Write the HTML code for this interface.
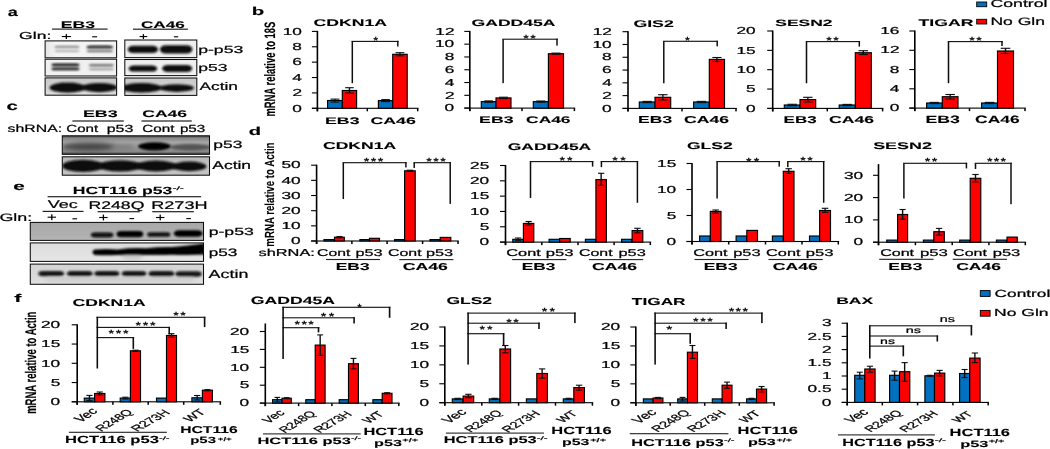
<!DOCTYPE html>
<html><head><meta charset="utf-8"><style>
html,body{margin:0;padding:0;background:#fff;}
svg{display:block;}
text{font-family:"Liberation Sans", sans-serif;text-rendering:geometricPrecision;}
</style></head><body>
<svg width="1050" height="449" viewBox="0 0 1050 449">
<defs>
<filter id="b1" x="-50%" y="-50%" width="200%" height="200%"><feGaussianBlur stdDeviation="1.2"/></filter>
<filter id="b2" x="-50%" y="-50%" width="200%" height="200%"><feGaussianBlur stdDeviation="2"/></filter>
<filter id="b3" x="-50%" y="-50%" width="200%" height="200%"><feGaussianBlur stdDeviation="0.8"/></filter>
<filter id="soft" filterUnits="userSpaceOnUse" x="0" y="0" width="1050" height="449"><feGaussianBlur stdDeviation="0.7 0.5"/></filter>

<linearGradient id="gA1" x1="0" y1="0" x2="1" y2="0"><stop offset="0" stop-color="#e4e4e4"/><stop offset="0.15" stop-color="#f4f4f4"/><stop offset="1" stop-color="#f2f2f2"/></linearGradient>
<linearGradient id="gA3" x1="0" y1="0" x2="0" y2="1"><stop offset="0" stop-color="#c8c8c8"/><stop offset="1" stop-color="#dcdcdc"/></linearGradient>
<linearGradient id="gC1" x1="0" y1="0" x2="0" y2="1"><stop offset="0" stop-color="#3a3a3a"/><stop offset="0.12" stop-color="#858585"/><stop offset="0.35" stop-color="#a6a6a6"/><stop offset="0.6" stop-color="#9a9a9a"/><stop offset="0.85" stop-color="#8a8a8a"/><stop offset="1" stop-color="#3a3a3a"/></linearGradient>
<linearGradient id="gC2" x1="0" y1="0" x2="0" y2="1"><stop offset="0" stop-color="#b8b8b8"/><stop offset="0.5" stop-color="#c8c8c8"/><stop offset="1" stop-color="#c0c0c0"/></linearGradient>
<linearGradient id="gE1" x1="0" y1="0" x2="0" y2="1"><stop offset="0" stop-color="#a8a8a8"/><stop offset="1" stop-color="#b4b4b4"/></linearGradient>
<linearGradient id="gE2" x1="0" y1="0" x2="0" y2="1"><stop offset="0" stop-color="#dcdcdc"/><stop offset="1" stop-color="#e6e6e6"/></linearGradient>
<linearGradient id="gE3" x1="0" y1="0" x2="0" y2="1"><stop offset="0" stop-color="#d4d4d4"/><stop offset="1" stop-color="#dedede"/></linearGradient>

</defs>
<rect width="1050" height="449" fill="#fff"/>
<g filter="url(#soft)">
<text x="7.79" y="16.35" font-size="11.98" font-weight="bold" textLength="10.08" lengthAdjust="spacingAndGlyphs" fill="#000" color="#000" stroke="currentColor" stroke-width="0.15" stroke-linejoin="round">a</text>
<text x="251.73" y="15.4" font-size="11.24" font-weight="bold" textLength="12.45" lengthAdjust="spacingAndGlyphs" fill="#000" color="#000" stroke="currentColor" stroke-width="0.15" stroke-linejoin="round">b</text>
<text x="6.44" y="110.25" font-size="11.98" font-weight="bold" textLength="11.28" lengthAdjust="spacingAndGlyphs" fill="#000" color="#000" stroke="currentColor" stroke-width="0.15" stroke-linejoin="round">c</text>
<text x="248.84" y="135.4" font-size="11.24" font-weight="bold" textLength="12.33" lengthAdjust="spacingAndGlyphs" fill="#000" color="#000" stroke="currentColor" stroke-width="0.15" stroke-linejoin="round">d</text>
<text x="13.29" y="190.25" font-size="11.6" font-weight="bold" textLength="11.55" lengthAdjust="spacingAndGlyphs" fill="#000" color="#000" stroke="currentColor" stroke-width="0.15" stroke-linejoin="round">e</text>
<text x="14.24" y="301.7" font-size="11.24" font-weight="bold" textLength="7.15" lengthAdjust="spacingAndGlyphs" fill="#000" color="#000" stroke="currentColor" stroke-width="0.15" stroke-linejoin="round">f</text>
<rect x="316.6" y="30.9" width="1.6" height="80.4" fill="#000"/>
<rect x="311.9" y="107.75" width="106.6" height="1.1" fill="#000"/>
<rect x="311.9" y="107.75" width="5.5" height="1.1" fill="#000"/>
<text transform="translate(301.85,111.52) scale(1.71,1)" font-size="10.1" font-weight="normal" text-anchor="end" fill="#000" color="#000" stroke="currentColor" stroke-width="0.22" stroke-linejoin="round">0</text>
<rect x="311.9" y="92.37" width="5.5" height="1.1" fill="#000"/>
<text transform="translate(302.07,96.14) scale(1.71,1)" font-size="10.1" font-weight="normal" text-anchor="end" fill="#000" color="#000" stroke="currentColor" stroke-width="0.22" stroke-linejoin="round">2</text>
<rect x="311.9" y="76.99" width="5.5" height="1.1" fill="#000"/>
<text transform="translate(301.98,80.76) scale(1.71,1)" font-size="10.1" font-weight="normal" text-anchor="end" fill="#000" color="#000" stroke="currentColor" stroke-width="0.22" stroke-linejoin="round">4</text>
<rect x="311.9" y="61.61" width="5.5" height="1.1" fill="#000"/>
<text transform="translate(301.91,65.38) scale(1.71,1)" font-size="10.1" font-weight="normal" text-anchor="end" fill="#000" color="#000" stroke="currentColor" stroke-width="0.22" stroke-linejoin="round">6</text>
<rect x="311.9" y="46.23" width="5.5" height="1.1" fill="#000"/>
<text transform="translate(301.94,50) scale(1.71,1)" font-size="10.1" font-weight="normal" text-anchor="end" fill="#000" color="#000" stroke="currentColor" stroke-width="0.22" stroke-linejoin="round">8</text>
<rect x="311.9" y="30.85" width="5.5" height="1.1" fill="#000"/>
<text transform="translate(301.85,34.62) scale(1.71,1)" font-size="10.1" font-weight="normal" text-anchor="end" fill="#000" color="#000" stroke="currentColor" stroke-width="0.22" stroke-linejoin="round">10</text>
<rect x="316.65" y="108.3" width="1.5" height="3" fill="#000"/>
<rect x="366.55" y="108.3" width="1.5" height="3" fill="#000"/>
<rect x="416.95" y="108.3" width="1.5" height="3" fill="#000"/>
<rect x="327.6" y="100.5" width="14.7" height="7.8" fill="#0070c0" stroke="#000" stroke-width="1.15"/>
<rect x="334.25" y="99.1" width="1.4" height="3" fill="#111"/>
<rect x="330.54" y="98.55" width="8.82" height="1.1" fill="#111"/>
<rect x="330.54" y="101.55" width="8.82" height="1.1" fill="#111"/>
<rect x="342.3" y="90.5" width="14.3" height="17.8" fill="#ff0000" stroke="#000" stroke-width="1.15"/>
<rect x="348.75" y="87.7" width="1.4" height="5.3" fill="#111"/>
<rect x="345.16" y="87.15" width="8.58" height="1.1" fill="#111"/>
<rect x="345.16" y="92.45" width="8.58" height="1.1" fill="#111"/>
<rect x="378.4" y="100.6" width="14.3" height="7.7" fill="#0070c0" stroke="#000" stroke-width="1.15"/>
<rect x="384.85" y="99.6" width="1.4" height="2" fill="#111"/>
<rect x="381.26" y="99.05" width="8.58" height="1.1" fill="#111"/>
<rect x="381.26" y="101.05" width="8.58" height="1.1" fill="#111"/>
<rect x="392.7" y="54.3" width="14.5" height="54" fill="#ff0000" stroke="#000" stroke-width="1.15"/>
<rect x="399.25" y="52.7" width="1.4" height="3.2" fill="#111"/>
<rect x="395.6" y="52.15" width="8.7" height="1.1" fill="#111"/>
<rect x="395.6" y="55.35" width="8.7" height="1.1" fill="#111"/>
<rect x="351.55" y="41.4" width="1.5" height="41.75" fill="#111"/>
<rect x="351.55" y="40.85" width="47" height="1.1" fill="#111"/>
<rect x="397.05" y="40.85" width="1.5" height="5.65" fill="#111"/>
<text x="373.25" y="44.38" font-size="10.5" font-weight="bold" textLength="4.87" lengthAdjust="spacingAndGlyphs" fill="#111">*</text>
<text x="313.61" y="26.05" font-size="9.78" font-weight="bold" textLength="73.52" lengthAdjust="spacingAndGlyphs" fill="#000" color="#000" stroke="currentColor" stroke-width="0.1" stroke-linejoin="round">CDKN1A</text>
<text x="325.02" y="123.55" font-size="9.5" font-weight="bold" textLength="34.48" lengthAdjust="spacingAndGlyphs" fill="#000" color="#000" stroke="currentColor" stroke-width="0.1" stroke-linejoin="round">EB3</text>
<text x="370.44" y="123.55" font-size="9.5" font-weight="bold" textLength="45.39" lengthAdjust="spacingAndGlyphs" fill="#000" color="#000" stroke="currentColor" stroke-width="0.1" stroke-linejoin="round">CA46</text>
<text transform="translate(275.27,116.55) scale(1.54,1) rotate(-90)" font-size="9.8" font-weight="bold" textLength="94.87" lengthAdjust="spacingAndGlyphs" color="#000" stroke="currentColor" stroke-width="0.1" stroke-linejoin="round">mRNA relative to 18S</text>
<rect x="469" y="30.9" width="1.6" height="80.2" fill="#000"/>
<rect x="464.3" y="107.55" width="110.9" height="1.1" fill="#000"/>
<rect x="464.3" y="107.55" width="5.5" height="1.1" fill="#000"/>
<text transform="translate(454.19,111.32) scale(1.71,1)" font-size="10.1" font-weight="normal" text-anchor="end" fill="#000" color="#000" stroke="currentColor" stroke-width="0.22" stroke-linejoin="round">0</text>
<rect x="464.3" y="94.77" width="5.5" height="1.1" fill="#000"/>
<text transform="translate(454.51,98.53) scale(1.71,1)" font-size="10.1" font-weight="normal" text-anchor="end" fill="#000" color="#000" stroke="currentColor" stroke-width="0.22" stroke-linejoin="round">2</text>
<rect x="464.3" y="81.98" width="5.5" height="1.1" fill="#000"/>
<text transform="translate(454.35,85.75) scale(1.71,1)" font-size="10.1" font-weight="normal" text-anchor="end" fill="#000" color="#000" stroke="currentColor" stroke-width="0.22" stroke-linejoin="round">4</text>
<rect x="464.3" y="69.2" width="5.5" height="1.1" fill="#000"/>
<text transform="translate(454.29,72.97) scale(1.71,1)" font-size="10.1" font-weight="normal" text-anchor="end" fill="#000" color="#000" stroke="currentColor" stroke-width="0.22" stroke-linejoin="round">6</text>
<rect x="464.3" y="56.42" width="5.5" height="1.1" fill="#000"/>
<text transform="translate(454.4,60.18) scale(1.71,1)" font-size="10.1" font-weight="normal" text-anchor="end" fill="#000" color="#000" stroke="currentColor" stroke-width="0.22" stroke-linejoin="round">8</text>
<rect x="464.3" y="43.63" width="5.5" height="1.1" fill="#000"/>
<text transform="translate(454.19,47.4) scale(1.71,1)" font-size="10.1" font-weight="normal" text-anchor="end" fill="#000" color="#000" stroke="currentColor" stroke-width="0.22" stroke-linejoin="round">10</text>
<rect x="464.3" y="30.85" width="5.5" height="1.1" fill="#000"/>
<text transform="translate(454.51,34.62) scale(1.71,1)" font-size="10.1" font-weight="normal" text-anchor="end" fill="#000" color="#000" stroke="currentColor" stroke-width="0.22" stroke-linejoin="round">12</text>
<rect x="469.05" y="108.1" width="1.5" height="3" fill="#000"/>
<rect x="521.25" y="108.1" width="1.5" height="3" fill="#000"/>
<rect x="573.65" y="108.1" width="1.5" height="3" fill="#000"/>
<rect x="481.3" y="101.6" width="14.7" height="6.5" fill="#0070c0" stroke="#000" stroke-width="1.15"/>
<rect x="487.95" y="100.9" width="1.4" height="1.4" fill="#111"/>
<rect x="484.24" y="100.35" width="8.82" height="1.1" fill="#111"/>
<rect x="484.24" y="101.75" width="8.82" height="1.1" fill="#111"/>
<rect x="496" y="97.9" width="15" height="10.2" fill="#ff0000" stroke="#000" stroke-width="1.15"/>
<rect x="502.8" y="97.2" width="1.4" height="1.4" fill="#111"/>
<rect x="499" y="96.65" width="9" height="1.1" fill="#111"/>
<rect x="499" y="98.05" width="9" height="1.1" fill="#111"/>
<rect x="533.3" y="101.6" width="15.1" height="6.5" fill="#0070c0" stroke="#000" stroke-width="1.15"/>
<rect x="540.15" y="101" width="1.4" height="1.2" fill="#111"/>
<rect x="536.32" y="100.45" width="9.06" height="1.1" fill="#111"/>
<rect x="536.32" y="101.65" width="9.06" height="1.1" fill="#111"/>
<rect x="548.4" y="53.7" width="15.1" height="54.4" fill="#ff0000" stroke="#000" stroke-width="1.15"/>
<rect x="555.25" y="53.1" width="1.4" height="1.2" fill="#111"/>
<rect x="551.42" y="52.55" width="9.06" height="1.1" fill="#111"/>
<rect x="551.42" y="53.75" width="9.06" height="1.1" fill="#111"/>
<rect x="502.35" y="39.2" width="1.5" height="43.95" fill="#111"/>
<rect x="502.35" y="38.65" width="55.4" height="1.1" fill="#111"/>
<rect x="556.25" y="38.65" width="1.5" height="6.95" fill="#111"/>
<text transform="translate(523.36,42.15) scale(1.35,1)" font-size="10.5" font-weight="bold" textLength="9.18" lengthAdjust="spacing" fill="#111">**</text>
<text x="471.58" y="26.05" font-size="9.22" font-weight="bold" textLength="83.97" lengthAdjust="spacingAndGlyphs" fill="#000" color="#000" stroke="currentColor" stroke-width="0.1" stroke-linejoin="round">GADD45A</text>
<text x="479.11" y="122.75" font-size="9.64" font-weight="bold" textLength="34.45" lengthAdjust="spacingAndGlyphs" fill="#000" color="#000" stroke="currentColor" stroke-width="0.1" stroke-linejoin="round">EB3</text>
<text x="526.09" y="122.75" font-size="9.64" font-weight="bold" textLength="44.47" lengthAdjust="spacingAndGlyphs" fill="#000" color="#000" stroke="currentColor" stroke-width="0.1" stroke-linejoin="round">CA46</text>
<rect x="627.2" y="31.2" width="1.6" height="80.2" fill="#000"/>
<rect x="622.5" y="107.85" width="114.3" height="1.1" fill="#000"/>
<rect x="622.5" y="107.85" width="5.5" height="1.1" fill="#000"/>
<text transform="translate(611.65,111.62) scale(1.71,1)" font-size="10.1" font-weight="normal" text-anchor="end" fill="#000" color="#000" stroke="currentColor" stroke-width="0.22" stroke-linejoin="round">0</text>
<rect x="622.5" y="95.07" width="5.5" height="1.1" fill="#000"/>
<text transform="translate(611.87,98.83) scale(1.71,1)" font-size="10.1" font-weight="normal" text-anchor="end" fill="#000" color="#000" stroke="currentColor" stroke-width="0.22" stroke-linejoin="round">2</text>
<rect x="622.5" y="82.28" width="5.5" height="1.1" fill="#000"/>
<text transform="translate(611.78,86.05) scale(1.71,1)" font-size="10.1" font-weight="normal" text-anchor="end" fill="#000" color="#000" stroke="currentColor" stroke-width="0.22" stroke-linejoin="round">4</text>
<rect x="622.5" y="69.5" width="5.5" height="1.1" fill="#000"/>
<text transform="translate(611.71,73.27) scale(1.71,1)" font-size="10.1" font-weight="normal" text-anchor="end" fill="#000" color="#000" stroke="currentColor" stroke-width="0.22" stroke-linejoin="round">6</text>
<rect x="622.5" y="56.72" width="5.5" height="1.1" fill="#000"/>
<text transform="translate(611.74,60.48) scale(1.71,1)" font-size="10.1" font-weight="normal" text-anchor="end" fill="#000" color="#000" stroke="currentColor" stroke-width="0.22" stroke-linejoin="round">8</text>
<rect x="622.5" y="43.93" width="5.5" height="1.1" fill="#000"/>
<text transform="translate(611.65,47.7) scale(1.71,1)" font-size="10.1" font-weight="normal" text-anchor="end" fill="#000" color="#000" stroke="currentColor" stroke-width="0.22" stroke-linejoin="round">10</text>
<rect x="622.5" y="31.15" width="5.5" height="1.1" fill="#000"/>
<text transform="translate(611.87,34.92) scale(1.71,1)" font-size="10.1" font-weight="normal" text-anchor="end" fill="#000" color="#000" stroke="currentColor" stroke-width="0.22" stroke-linejoin="round">12</text>
<rect x="627.25" y="108.4" width="1.5" height="3" fill="#000"/>
<rect x="681.25" y="108.4" width="1.5" height="3" fill="#000"/>
<rect x="735.25" y="108.4" width="1.5" height="3" fill="#000"/>
<rect x="639.3" y="102" width="15.7" height="6.4" fill="#0070c0" stroke="#000" stroke-width="1.15"/>
<rect x="646.45" y="101.4" width="1.4" height="1.2" fill="#111"/>
<rect x="642.44" y="100.85" width="9.42" height="1.1" fill="#111"/>
<rect x="642.44" y="102.05" width="9.42" height="1.1" fill="#111"/>
<rect x="655" y="97.3" width="15.7" height="11.1" fill="#ff0000" stroke="#000" stroke-width="1.15"/>
<rect x="662.15" y="94.7" width="1.4" height="5.3" fill="#111"/>
<rect x="658.14" y="94.15" width="9.42" height="1.1" fill="#111"/>
<rect x="658.14" y="99.45" width="9.42" height="1.1" fill="#111"/>
<rect x="693.6" y="102" width="15.7" height="6.4" fill="#0070c0" stroke="#000" stroke-width="1.15"/>
<rect x="700.75" y="101.4" width="1.4" height="1.2" fill="#111"/>
<rect x="696.74" y="100.85" width="9.42" height="1.1" fill="#111"/>
<rect x="696.74" y="102.05" width="9.42" height="1.1" fill="#111"/>
<rect x="709.3" y="59.4" width="15.2" height="49" fill="#ff0000" stroke="#000" stroke-width="1.15"/>
<rect x="716.2" y="57.5" width="1.4" height="4" fill="#111"/>
<rect x="712.34" y="56.95" width="9.12" height="1.1" fill="#111"/>
<rect x="712.34" y="60.95" width="9.12" height="1.1" fill="#111"/>
<rect x="663.05" y="41.3" width="1.5" height="41.95" fill="#111"/>
<rect x="663.05" y="40.75" width="54.9" height="1.1" fill="#111"/>
<rect x="716.45" y="40.75" width="1.5" height="5.55" fill="#111"/>
<text x="684.99" y="44.49" font-size="10.5" font-weight="bold" textLength="4.82" lengthAdjust="spacingAndGlyphs" fill="#111">*</text>
<text x="633.4" y="26.55" font-size="9.78" font-weight="bold" textLength="40.37" lengthAdjust="spacingAndGlyphs" fill="#000" color="#000" stroke="currentColor" stroke-width="0.1" stroke-linejoin="round">GIS2</text>
<text x="638.13" y="123.45" font-size="10.06" font-weight="bold" textLength="34.05" lengthAdjust="spacingAndGlyphs" fill="#000" color="#000" stroke="currentColor" stroke-width="0.1" stroke-linejoin="round">EB3</text>
<text x="684.08" y="123.45" font-size="10.06" font-weight="bold" textLength="44.84" lengthAdjust="spacingAndGlyphs" fill="#000" color="#000" stroke="currentColor" stroke-width="0.1" stroke-linejoin="round">CA46</text>
<rect x="771.9" y="30.5" width="1.6" height="80.9" fill="#000"/>
<rect x="767.2" y="107.85" width="116.2" height="1.1" fill="#000"/>
<rect x="767.2" y="107.85" width="5.5" height="1.1" fill="#000"/>
<text transform="translate(755.65,111.62) scale(1.71,1)" font-size="10.1" font-weight="normal" text-anchor="end" fill="#000" color="#000" stroke="currentColor" stroke-width="0.22" stroke-linejoin="round">0</text>
<rect x="767.2" y="88.5" width="5.5" height="1.1" fill="#000"/>
<text transform="translate(755.7,92.27) scale(1.71,1)" font-size="10.1" font-weight="normal" text-anchor="end" fill="#000" color="#000" stroke="currentColor" stroke-width="0.22" stroke-linejoin="round">5</text>
<rect x="767.2" y="69.15" width="5.5" height="1.1" fill="#000"/>
<text transform="translate(755.65,72.92) scale(1.71,1)" font-size="10.1" font-weight="normal" text-anchor="end" fill="#000" color="#000" stroke="currentColor" stroke-width="0.22" stroke-linejoin="round">10</text>
<rect x="767.2" y="49.8" width="5.5" height="1.1" fill="#000"/>
<text transform="translate(755.7,53.57) scale(1.71,1)" font-size="10.1" font-weight="normal" text-anchor="end" fill="#000" color="#000" stroke="currentColor" stroke-width="0.22" stroke-linejoin="round">15</text>
<rect x="767.2" y="30.45" width="5.5" height="1.1" fill="#000"/>
<text transform="translate(755.65,34.22) scale(1.71,1)" font-size="10.1" font-weight="normal" text-anchor="end" fill="#000" color="#000" stroke="currentColor" stroke-width="0.22" stroke-linejoin="round">20</text>
<rect x="771.95" y="108.4" width="1.5" height="3" fill="#000"/>
<rect x="826.55" y="108.4" width="1.5" height="3" fill="#000"/>
<rect x="881.85" y="108.4" width="1.5" height="3" fill="#000"/>
<rect x="784.3" y="105" width="15.7" height="3.4" fill="#0070c0" stroke="#000" stroke-width="1.15"/>
<rect x="791.45" y="104.3" width="1.4" height="1.4" fill="#111"/>
<rect x="787.44" y="103.75" width="9.42" height="1.1" fill="#111"/>
<rect x="787.44" y="105.15" width="9.42" height="1.1" fill="#111"/>
<rect x="800" y="99.6" width="15.7" height="8.8" fill="#ff0000" stroke="#000" stroke-width="1.15"/>
<rect x="807.15" y="97.3" width="1.4" height="4.7" fill="#111"/>
<rect x="803.14" y="96.75" width="9.42" height="1.1" fill="#111"/>
<rect x="803.14" y="101.45" width="9.42" height="1.1" fill="#111"/>
<rect x="839.2" y="105" width="16.1" height="3.4" fill="#0070c0" stroke="#000" stroke-width="1.15"/>
<rect x="846.55" y="104.4" width="1.4" height="1.2" fill="#111"/>
<rect x="842.42" y="103.85" width="9.66" height="1.1" fill="#111"/>
<rect x="842.42" y="105.05" width="9.66" height="1.1" fill="#111"/>
<rect x="855.3" y="52.7" width="16" height="55.7" fill="#ff0000" stroke="#000" stroke-width="1.15"/>
<rect x="862.6" y="50.7" width="1.4" height="3.8" fill="#111"/>
<rect x="858.5" y="50.15" width="9.6" height="1.1" fill="#111"/>
<rect x="858.5" y="53.95" width="9.6" height="1.1" fill="#111"/>
<rect x="805.75" y="41.6" width="1.5" height="41.65" fill="#111"/>
<rect x="805.75" y="41.05" width="54.3" height="1.1" fill="#111"/>
<rect x="858.55" y="41.05" width="1.5" height="5.55" fill="#111"/>
<text transform="translate(826.3,43.68) scale(1.35,1)" font-size="10.5" font-weight="bold" textLength="9.28" lengthAdjust="spacing" fill="#111">**</text>
<text x="775.26" y="25.75" font-size="9.08" font-weight="bold" textLength="57.35" lengthAdjust="spacingAndGlyphs" fill="#000" color="#000" stroke="currentColor" stroke-width="0.1" stroke-linejoin="round">SESN2</text>
<text x="783.57" y="123.15" font-size="9.92" font-weight="bold" textLength="33.05" lengthAdjust="spacingAndGlyphs" fill="#000" color="#000" stroke="currentColor" stroke-width="0.1" stroke-linejoin="round">EB3</text>
<text x="828.99" y="123.15" font-size="9.92" font-weight="bold" textLength="44.97" lengthAdjust="spacingAndGlyphs" fill="#000" color="#000" stroke="currentColor" stroke-width="0.1" stroke-linejoin="round">CA46</text>
<rect x="914" y="30.5" width="1.6" height="80.6" fill="#000"/>
<rect x="909.3" y="107.55" width="116.5" height="1.1" fill="#000"/>
<rect x="909.3" y="107.55" width="5.5" height="1.1" fill="#000"/>
<text transform="translate(899.32,111.32) scale(1.71,1)" font-size="10.1" font-weight="normal" text-anchor="end" fill="#000" color="#000" stroke="currentColor" stroke-width="0.22" stroke-linejoin="round">0</text>
<rect x="909.3" y="88.27" width="5.5" height="1.1" fill="#000"/>
<text transform="translate(899.43,92.04) scale(1.71,1)" font-size="10.1" font-weight="normal" text-anchor="end" fill="#000" color="#000" stroke="currentColor" stroke-width="0.22" stroke-linejoin="round">4</text>
<rect x="909.3" y="69" width="5.5" height="1.1" fill="#000"/>
<text transform="translate(899.43,72.77) scale(1.71,1)" font-size="10.1" font-weight="normal" text-anchor="end" fill="#000" color="#000" stroke="currentColor" stroke-width="0.22" stroke-linejoin="round">8</text>
<rect x="909.3" y="49.73" width="5.5" height="1.1" fill="#000"/>
<text transform="translate(899.52,53.49) scale(1.71,1)" font-size="10.1" font-weight="normal" text-anchor="end" fill="#000" color="#000" stroke="currentColor" stroke-width="0.22" stroke-linejoin="round">12</text>
<rect x="909.3" y="30.45" width="5.5" height="1.1" fill="#000"/>
<text transform="translate(899.4,34.22) scale(1.71,1)" font-size="10.1" font-weight="normal" text-anchor="end" fill="#000" color="#000" stroke="currentColor" stroke-width="0.22" stroke-linejoin="round">16</text>
<rect x="914.05" y="108.1" width="1.5" height="3" fill="#000"/>
<rect x="968.75" y="108.1" width="1.5" height="3" fill="#000"/>
<rect x="1024.25" y="108.1" width="1.5" height="3" fill="#000"/>
<rect x="926.6" y="103" width="15.7" height="5.1" fill="#0070c0" stroke="#000" stroke-width="1.15"/>
<rect x="933.75" y="102.4" width="1.4" height="1.2" fill="#111"/>
<rect x="929.74" y="101.85" width="9.42" height="1.1" fill="#111"/>
<rect x="929.74" y="103.05" width="9.42" height="1.1" fill="#111"/>
<rect x="942.3" y="96.7" width="15.7" height="11.4" fill="#ff0000" stroke="#000" stroke-width="1.15"/>
<rect x="949.45" y="94.5" width="1.4" height="4.5" fill="#111"/>
<rect x="945.44" y="93.95" width="9.42" height="1.1" fill="#111"/>
<rect x="945.44" y="98.45" width="9.42" height="1.1" fill="#111"/>
<rect x="981.6" y="103" width="15.9" height="5.1" fill="#0070c0" stroke="#000" stroke-width="1.15"/>
<rect x="988.85" y="102.4" width="1.4" height="1.2" fill="#111"/>
<rect x="984.78" y="101.85" width="9.54" height="1.1" fill="#111"/>
<rect x="984.78" y="103.05" width="9.54" height="1.1" fill="#111"/>
<rect x="997.5" y="51" width="16" height="57.1" fill="#ff0000" stroke="#000" stroke-width="1.15"/>
<rect x="1004.8" y="48.3" width="1.4" height="5.2" fill="#111"/>
<rect x="1000.7" y="47.75" width="9.6" height="1.1" fill="#111"/>
<rect x="1000.7" y="52.95" width="9.6" height="1.1" fill="#111"/>
<rect x="947.75" y="41.6" width="1.5" height="41.55" fill="#111"/>
<rect x="947.75" y="41.05" width="55" height="1.1" fill="#111"/>
<rect x="1001.25" y="41.05" width="1.5" height="4.95" fill="#111"/>
<text transform="translate(969.21,44.24) scale(1.35,1)" font-size="10.5" font-weight="bold" textLength="9.28" lengthAdjust="spacing" fill="#111">**</text>
<text x="918.46" y="25.85" font-size="9.78" font-weight="bold" textLength="55" lengthAdjust="spacingAndGlyphs" fill="#000" color="#000" stroke="currentColor" stroke-width="0.1" stroke-linejoin="round">TIGAR</text>
<text x="925.55" y="123.15" font-size="10.61" font-weight="bold" textLength="34.34" lengthAdjust="spacingAndGlyphs" fill="#000" color="#000" stroke="currentColor" stroke-width="0.1" stroke-linejoin="round">EB3</text>
<text x="975.13" y="123.15" font-size="10.61" font-weight="bold" textLength="44.53" lengthAdjust="spacingAndGlyphs" fill="#000" color="#000" stroke="currentColor" stroke-width="0.1" stroke-linejoin="round">CA46</text>
<rect x="976.7" y="2" width="10" height="4.7" fill="#0070c0" stroke="#000" stroke-width="0.9"/>
<rect x="976.7" y="19.3" width="10" height="4.7" fill="#ff0000" stroke="#000" stroke-width="0.9"/>
<text x="990.55" y="6.75" font-size="10.47" font-weight="normal" textLength="56.94" lengthAdjust="spacingAndGlyphs" fill="#000" color="#000" stroke="currentColor" stroke-width="0.22" stroke-linejoin="round">Control</text>
<text x="990.42" y="24.55" font-size="10.75" font-weight="normal" textLength="54.52" lengthAdjust="spacingAndGlyphs" fill="#000" color="#000" stroke="currentColor" stroke-width="0.22" stroke-linejoin="round">No Gln</text>
<rect x="315.8" y="164.7" width="1.6" height="79.3" fill="#000"/>
<rect x="311.1" y="240.45" width="147.7" height="1.1" fill="#000"/>
<rect x="311.1" y="240.45" width="5.5" height="1.1" fill="#000"/>
<text transform="translate(300.65,244.22) scale(1.71,1)" font-size="10.1" font-weight="normal" text-anchor="end" fill="#000" color="#000" stroke="currentColor" stroke-width="0.22" stroke-linejoin="round">0</text>
<rect x="311.1" y="225.29" width="5.5" height="1.1" fill="#000"/>
<text transform="translate(300.65,229.06) scale(1.71,1)" font-size="10.1" font-weight="normal" text-anchor="end" fill="#000" color="#000" stroke="currentColor" stroke-width="0.22" stroke-linejoin="round">10</text>
<rect x="311.1" y="210.13" width="5.5" height="1.1" fill="#000"/>
<text transform="translate(300.65,213.9) scale(1.71,1)" font-size="10.1" font-weight="normal" text-anchor="end" fill="#000" color="#000" stroke="currentColor" stroke-width="0.22" stroke-linejoin="round">20</text>
<rect x="311.1" y="194.97" width="5.5" height="1.1" fill="#000"/>
<text transform="translate(300.65,198.74) scale(1.71,1)" font-size="10.1" font-weight="normal" text-anchor="end" fill="#000" color="#000" stroke="currentColor" stroke-width="0.22" stroke-linejoin="round">30</text>
<rect x="311.1" y="179.81" width="5.5" height="1.1" fill="#000"/>
<text transform="translate(300.65,183.58) scale(1.71,1)" font-size="10.1" font-weight="normal" text-anchor="end" fill="#000" color="#000" stroke="currentColor" stroke-width="0.22" stroke-linejoin="round">40</text>
<rect x="311.1" y="164.65" width="5.5" height="1.1" fill="#000"/>
<text transform="translate(300.65,168.42) scale(1.71,1)" font-size="10.1" font-weight="normal" text-anchor="end" fill="#000" color="#000" stroke="currentColor" stroke-width="0.22" stroke-linejoin="round">50</text>
<rect x="315.85" y="241" width="1.5" height="3" fill="#000"/>
<rect x="351.15" y="241" width="1.5" height="3" fill="#000"/>
<rect x="386.35" y="241" width="1.5" height="3" fill="#000"/>
<rect x="421.85" y="241" width="1.5" height="3" fill="#000"/>
<rect x="457.25" y="241" width="1.5" height="3" fill="#000"/>
<rect x="324" y="239.6" width="10.5" height="1.4" fill="#0070c0" stroke="#000" stroke-width="1.15"/>
<rect x="334.5" y="237.2" width="9.8" height="3.8" fill="#ff0000" stroke="#000" stroke-width="1.15"/>
<rect x="338.7" y="236.5" width="1.4" height="1.4" fill="#111"/>
<rect x="336.46" y="235.95" width="5.88" height="1.1" fill="#111"/>
<rect x="336.46" y="237.35" width="5.88" height="1.1" fill="#111"/>
<rect x="359.9" y="239.6" width="9.6" height="1.4" fill="#0070c0" stroke="#000" stroke-width="1.15"/>
<rect x="369.5" y="238.3" width="10" height="2.7" fill="#ff0000" stroke="#000" stroke-width="1.15"/>
<rect x="394.6" y="239.6" width="10" height="1.4" fill="#0070c0" stroke="#000" stroke-width="1.15"/>
<rect x="404.6" y="170.8" width="10.6" height="70.2" fill="#ff0000" stroke="#000" stroke-width="1.15"/>
<rect x="409.2" y="170.2" width="1.4" height="1.2" fill="#111"/>
<rect x="406.72" y="169.65" width="6.36" height="1.1" fill="#111"/>
<rect x="406.72" y="170.85" width="6.36" height="1.1" fill="#111"/>
<rect x="430" y="239.6" width="10.2" height="1.4" fill="#0070c0" stroke="#000" stroke-width="1.15"/>
<rect x="440.2" y="237.4" width="10.6" height="3.6" fill="#ff0000" stroke="#000" stroke-width="1.15"/>
<rect x="342.55" y="162.7" width="1.5" height="36.35" fill="#111"/>
<rect x="342.55" y="162.15" width="64.1" height="1.1" fill="#111"/>
<rect x="405.15" y="162.15" width="1.5" height="5.25" fill="#111"/>
<rect x="413.45" y="162.7" width="1.5" height="5.25" fill="#111"/>
<rect x="413.45" y="162.15" width="37.5" height="1.1" fill="#111"/>
<rect x="449.45" y="162.15" width="1.5" height="41.75" fill="#111"/>
<text transform="translate(363.67,165.41) scale(1.35,1)" font-size="10.5" font-weight="bold" textLength="14.49" lengthAdjust="spacing" fill="#111">***</text>
<text transform="translate(426.26,164.81) scale(1.35,1)" font-size="10.5" font-weight="bold" textLength="14.38" lengthAdjust="spacing" fill="#111">***</text>
<text x="322.98" y="148.85" font-size="9.92" font-weight="bold" textLength="73.29" lengthAdjust="spacingAndGlyphs" fill="#000" color="#000" stroke="currentColor" stroke-width="0.1" stroke-linejoin="round">CDKN1A</text>
<text x="317.11" y="255.85" font-size="9.78" font-weight="normal" textLength="33.16" lengthAdjust="spacingAndGlyphs" fill="#000" color="#000" stroke="currentColor" stroke-width="0.22" stroke-linejoin="round">Cont</text>
<text x="355.55" y="255.85" font-size="9.78" font-weight="normal" textLength="27.06" lengthAdjust="spacingAndGlyphs" fill="#000" color="#000" stroke="currentColor" stroke-width="0.22" stroke-linejoin="round">p53</text>
<text x="388.08" y="255.85" font-size="9.78" font-weight="normal" textLength="33.54" lengthAdjust="spacingAndGlyphs" fill="#000" color="#000" stroke="currentColor" stroke-width="0.22" stroke-linejoin="round">Cont</text>
<text x="426.02" y="255.85" font-size="9.78" font-weight="normal" textLength="27.09" lengthAdjust="spacingAndGlyphs" fill="#000" color="#000" stroke="currentColor" stroke-width="0.22" stroke-linejoin="round">p53</text>
<rect x="326" y="258.95" width="53.9" height="1.1" fill="#222"/>
<rect x="399.3" y="259.05" width="54.1" height="1.1" fill="#222"/>
<text x="335.77" y="270.45" font-size="10.06" font-weight="bold" textLength="33.82" lengthAdjust="spacingAndGlyphs" fill="#000" color="#000" stroke="currentColor" stroke-width="0.1" stroke-linejoin="round">EB3</text>
<text x="402.88" y="270.45" font-size="10.06" font-weight="bold" textLength="45.02" lengthAdjust="spacingAndGlyphs" fill="#000" color="#000" stroke="currentColor" stroke-width="0.1" stroke-linejoin="round">CA46</text>
<text x="258.53" y="255.75" font-size="10.06" font-weight="normal" textLength="56.37" lengthAdjust="spacingAndGlyphs" fill="#000" color="#000" stroke="currentColor" stroke-width="0.22" stroke-linejoin="round">shRNA:</text>
<text transform="translate(273.54,246.69) scale(1.29,1) rotate(-90)" font-size="10.2" font-weight="bold" textLength="104.18" lengthAdjust="spacingAndGlyphs" color="#000" stroke="currentColor" stroke-width="0.1" stroke-linejoin="round">mRNA relative to Actin</text>
<rect x="504.7" y="165" width="1.6" height="80.1" fill="#000"/>
<rect x="500" y="241.55" width="151.1" height="1.1" fill="#000"/>
<rect x="500" y="241.55" width="5.5" height="1.1" fill="#000"/>
<text transform="translate(489.19,245.32) scale(1.71,1)" font-size="10.1" font-weight="normal" text-anchor="end" fill="#000" color="#000" stroke="currentColor" stroke-width="0.22" stroke-linejoin="round">0</text>
<rect x="500" y="226.23" width="5.5" height="1.1" fill="#000"/>
<text transform="translate(489.28,230) scale(1.71,1)" font-size="10.1" font-weight="normal" text-anchor="end" fill="#000" color="#000" stroke="currentColor" stroke-width="0.22" stroke-linejoin="round">5</text>
<rect x="500" y="210.91" width="5.5" height="1.1" fill="#000"/>
<text transform="translate(489.19,214.68) scale(1.71,1)" font-size="10.1" font-weight="normal" text-anchor="end" fill="#000" color="#000" stroke="currentColor" stroke-width="0.22" stroke-linejoin="round">10</text>
<rect x="500" y="195.59" width="5.5" height="1.1" fill="#000"/>
<text transform="translate(489.28,199.36) scale(1.71,1)" font-size="10.1" font-weight="normal" text-anchor="end" fill="#000" color="#000" stroke="currentColor" stroke-width="0.22" stroke-linejoin="round">15</text>
<rect x="500" y="180.27" width="5.5" height="1.1" fill="#000"/>
<text transform="translate(489.19,184.04) scale(1.71,1)" font-size="10.1" font-weight="normal" text-anchor="end" fill="#000" color="#000" stroke="currentColor" stroke-width="0.22" stroke-linejoin="round">20</text>
<rect x="500" y="164.95" width="5.5" height="1.1" fill="#000"/>
<text transform="translate(489.28,168.72) scale(1.71,1)" font-size="10.1" font-weight="normal" text-anchor="end" fill="#000" color="#000" stroke="currentColor" stroke-width="0.22" stroke-linejoin="round">25</text>
<rect x="504.75" y="242.1" width="1.5" height="3" fill="#000"/>
<rect x="541.05" y="242.1" width="1.5" height="3" fill="#000"/>
<rect x="577.25" y="242.1" width="1.5" height="3" fill="#000"/>
<rect x="613.35" y="242.1" width="1.5" height="3" fill="#000"/>
<rect x="649.55" y="242.1" width="1.5" height="3" fill="#000"/>
<rect x="512.8" y="239.3" width="10.6" height="2.8" fill="#0070c0" stroke="#000" stroke-width="1.15"/>
<rect x="517.4" y="238" width="1.4" height="2.6" fill="#111"/>
<rect x="514.92" y="237.45" width="6.36" height="1.1" fill="#111"/>
<rect x="514.92" y="240.05" width="6.36" height="1.1" fill="#111"/>
<rect x="523.4" y="223.4" width="10.4" height="18.7" fill="#ff0000" stroke="#000" stroke-width="1.15"/>
<rect x="527.9" y="221.5" width="1.4" height="3.5" fill="#111"/>
<rect x="525.48" y="220.95" width="6.24" height="1.1" fill="#111"/>
<rect x="525.48" y="224.45" width="6.24" height="1.1" fill="#111"/>
<rect x="549.1" y="239.3" width="10.5" height="2.8" fill="#0070c0" stroke="#000" stroke-width="1.15"/>
<rect x="559.6" y="238.5" width="10.6" height="3.6" fill="#ff0000" stroke="#000" stroke-width="1.15"/>
<rect x="585.4" y="239.3" width="10.5" height="2.8" fill="#0070c0" stroke="#000" stroke-width="1.15"/>
<rect x="595.9" y="179.6" width="10.5" height="62.5" fill="#ff0000" stroke="#000" stroke-width="1.15"/>
<rect x="600.45" y="173.3" width="1.4" height="12" fill="#111"/>
<rect x="598" y="172.75" width="6.3" height="1.1" fill="#111"/>
<rect x="598" y="184.75" width="6.3" height="1.1" fill="#111"/>
<rect x="621.6" y="239.3" width="10.5" height="2.8" fill="#0070c0" stroke="#000" stroke-width="1.15"/>
<rect x="632.1" y="230.6" width="10.7" height="11.5" fill="#ff0000" stroke="#000" stroke-width="1.15"/>
<rect x="636.75" y="228.3" width="1.4" height="4.5" fill="#111"/>
<rect x="634.24" y="227.75" width="6.42" height="1.1" fill="#111"/>
<rect x="634.24" y="232.25" width="6.42" height="1.1" fill="#111"/>
<rect x="529.75" y="161.6" width="1.5" height="36.35" fill="#111"/>
<rect x="529.75" y="161.05" width="63.6" height="1.1" fill="#111"/>
<rect x="591.85" y="161.05" width="1.5" height="5.55" fill="#111"/>
<rect x="600.65" y="161.6" width="1.5" height="5.55" fill="#111"/>
<rect x="600.65" y="161.05" width="37.5" height="1.1" fill="#111"/>
<rect x="636.65" y="161.05" width="1.5" height="41.75" fill="#111"/>
<text transform="translate(559.38,164.31) scale(1.35,1)" font-size="10.5" font-weight="bold" textLength="9.7" lengthAdjust="spacing" fill="#111">**</text>
<text transform="translate(612.29,164.33) scale(1.35,1)" font-size="10.5" font-weight="bold" textLength="9.94" lengthAdjust="spacing" fill="#111">**</text>
<text x="507.74" y="149.65" font-size="9.5" font-weight="bold" textLength="83.49" lengthAdjust="spacingAndGlyphs" fill="#000" color="#000" stroke="currentColor" stroke-width="0.1" stroke-linejoin="round">GADD45A</text>
<text x="506.39" y="255.85" font-size="9.78" font-weight="normal" textLength="34.39" lengthAdjust="spacingAndGlyphs" fill="#000" color="#000" stroke="currentColor" stroke-width="0.22" stroke-linejoin="round">Cont</text>
<text x="545.88" y="255.85" font-size="9.78" font-weight="normal" textLength="27.73" lengthAdjust="spacingAndGlyphs" fill="#000" color="#000" stroke="currentColor" stroke-width="0.22" stroke-linejoin="round">p53</text>
<text x="579.1" y="255.85" font-size="9.78" font-weight="normal" textLength="33.5" lengthAdjust="spacingAndGlyphs" fill="#000" color="#000" stroke="currentColor" stroke-width="0.22" stroke-linejoin="round">Cont</text>
<text x="618.51" y="255.85" font-size="9.78" font-weight="normal" textLength="27.33" lengthAdjust="spacingAndGlyphs" fill="#000" color="#000" stroke="currentColor" stroke-width="0.22" stroke-linejoin="round">p53</text>
<rect x="512.2" y="259.05" width="54.1" height="1.1" fill="#222"/>
<rect x="588.9" y="259.05" width="54.3" height="1.1" fill="#222"/>
<text x="521.76" y="270.45" font-size="10.06" font-weight="bold" textLength="33.68" lengthAdjust="spacingAndGlyphs" fill="#000" color="#000" stroke="currentColor" stroke-width="0.1" stroke-linejoin="round">EB3</text>
<text x="592.13" y="270.45" font-size="10.06" font-weight="bold" textLength="44.89" lengthAdjust="spacingAndGlyphs" fill="#000" color="#000" stroke="currentColor" stroke-width="0.1" stroke-linejoin="round">CA46</text>
<rect x="691.2" y="163" width="1.6" height="81.5" fill="#000"/>
<rect x="686.5" y="240.95" width="152.6" height="1.1" fill="#000"/>
<rect x="686.5" y="240.95" width="5.5" height="1.1" fill="#000"/>
<text transform="translate(676.19,244.72) scale(1.71,1)" font-size="10.1" font-weight="normal" text-anchor="end" fill="#000" color="#000" stroke="currentColor" stroke-width="0.22" stroke-linejoin="round">0</text>
<rect x="686.5" y="214.95" width="5.5" height="1.1" fill="#000"/>
<text transform="translate(676.28,218.72) scale(1.71,1)" font-size="10.1" font-weight="normal" text-anchor="end" fill="#000" color="#000" stroke="currentColor" stroke-width="0.22" stroke-linejoin="round">5</text>
<rect x="686.5" y="188.95" width="5.5" height="1.1" fill="#000"/>
<text transform="translate(676.19,192.72) scale(1.71,1)" font-size="10.1" font-weight="normal" text-anchor="end" fill="#000" color="#000" stroke="currentColor" stroke-width="0.22" stroke-linejoin="round">10</text>
<rect x="686.5" y="162.95" width="5.5" height="1.1" fill="#000"/>
<text transform="translate(676.28,166.72) scale(1.71,1)" font-size="10.1" font-weight="normal" text-anchor="end" fill="#000" color="#000" stroke="currentColor" stroke-width="0.22" stroke-linejoin="round">15</text>
<rect x="691.25" y="241.5" width="1.5" height="3" fill="#000"/>
<rect x="727.95" y="241.5" width="1.5" height="3" fill="#000"/>
<rect x="764.75" y="241.5" width="1.5" height="3" fill="#000"/>
<rect x="801.25" y="241.5" width="1.5" height="3" fill="#000"/>
<rect x="837.55" y="241.5" width="1.5" height="3" fill="#000"/>
<rect x="699.6" y="236" width="10.7" height="5.5" fill="#0070c0" stroke="#000" stroke-width="1.15"/>
<rect x="710.3" y="211.4" width="10.7" height="30.1" fill="#ff0000" stroke="#000" stroke-width="1.15"/>
<rect x="714.95" y="210" width="1.4" height="3" fill="#111"/>
<rect x="712.44" y="209.45" width="6.42" height="1.1" fill="#111"/>
<rect x="712.44" y="212.45" width="6.42" height="1.1" fill="#111"/>
<rect x="736.1" y="236" width="10.7" height="5.5" fill="#0070c0" stroke="#000" stroke-width="1.15"/>
<rect x="746.8" y="230.4" width="10.7" height="11.1" fill="#ff0000" stroke="#000" stroke-width="1.15"/>
<rect x="772.4" y="236" width="10.9" height="5.5" fill="#0070c0" stroke="#000" stroke-width="1.15"/>
<rect x="783.3" y="171.3" width="10.7" height="70.2" fill="#ff0000" stroke="#000" stroke-width="1.15"/>
<rect x="787.95" y="168.7" width="1.4" height="4.6" fill="#111"/>
<rect x="785.44" y="168.15" width="6.42" height="1.1" fill="#111"/>
<rect x="785.44" y="172.75" width="6.42" height="1.1" fill="#111"/>
<rect x="809.5" y="236" width="10.1" height="5.5" fill="#0070c0" stroke="#000" stroke-width="1.15"/>
<rect x="819.6" y="210.5" width="10.9" height="31" fill="#ff0000" stroke="#000" stroke-width="1.15"/>
<rect x="824.35" y="208.3" width="1.4" height="4" fill="#111"/>
<rect x="821.78" y="207.75" width="6.54" height="1.1" fill="#111"/>
<rect x="821.78" y="211.75" width="6.54" height="1.1" fill="#111"/>
<rect x="716.35" y="161.6" width="1.5" height="36.95" fill="#111"/>
<rect x="716.35" y="161.05" width="63.6" height="1.1" fill="#111"/>
<rect x="778.45" y="161.05" width="1.5" height="5.55" fill="#111"/>
<rect x="787.05" y="161.6" width="1.5" height="5.55" fill="#111"/>
<rect x="787.05" y="161.05" width="37.4" height="1.1" fill="#111"/>
<rect x="822.95" y="161.05" width="1.5" height="41.75" fill="#111"/>
<text transform="translate(746.07,164.61) scale(1.35,1)" font-size="10.5" font-weight="bold" textLength="9.81" lengthAdjust="spacing" fill="#111">**</text>
<text transform="translate(800.21,163.79) scale(1.35,1)" font-size="10.5" font-weight="bold" textLength="9.28" lengthAdjust="spacing" fill="#111">**</text>
<text x="686.92" y="148.85" font-size="9.5" font-weight="bold" textLength="45.76" lengthAdjust="spacingAndGlyphs" fill="#000" color="#000" stroke="currentColor" stroke-width="0.1" stroke-linejoin="round">GLS2</text>
<text x="693.32" y="255.85" font-size="9.78" font-weight="normal" textLength="34.32" lengthAdjust="spacingAndGlyphs" fill="#000" color="#000" stroke="currentColor" stroke-width="0.22" stroke-linejoin="round">Cont</text>
<text x="733.17" y="255.85" font-size="9.78" font-weight="normal" textLength="27.43" lengthAdjust="spacingAndGlyphs" fill="#000" color="#000" stroke="currentColor" stroke-width="0.22" stroke-linejoin="round">p53</text>
<text x="766.11" y="255.85" font-size="9.78" font-weight="normal" textLength="34.41" lengthAdjust="spacingAndGlyphs" fill="#000" color="#000" stroke="currentColor" stroke-width="0.22" stroke-linejoin="round">Cont</text>
<text x="805.88" y="255.85" font-size="9.78" font-weight="normal" textLength="27.73" lengthAdjust="spacingAndGlyphs" fill="#000" color="#000" stroke="currentColor" stroke-width="0.22" stroke-linejoin="round">p53</text>
<rect x="694.5" y="258.95" width="54.1" height="1.1" fill="#222"/>
<rect x="768.5" y="258.95" width="54.3" height="1.1" fill="#222"/>
<text x="703.77" y="270.45" font-size="10.06" font-weight="bold" textLength="33.82" lengthAdjust="spacingAndGlyphs" fill="#000" color="#000" stroke="currentColor" stroke-width="0.1" stroke-linejoin="round">EB3</text>
<text x="772.89" y="270.45" font-size="10.06" font-weight="bold" textLength="44.76" lengthAdjust="spacingAndGlyphs" fill="#000" color="#000" stroke="currentColor" stroke-width="0.1" stroke-linejoin="round">CA46</text>
<rect x="877.7" y="164.1" width="1.6" height="81.1" fill="#000"/>
<rect x="873" y="241.65" width="153.1" height="1.1" fill="#000"/>
<rect x="873" y="241.65" width="5.5" height="1.1" fill="#000"/>
<text transform="translate(863.19,245.42) scale(1.71,1)" font-size="10.1" font-weight="normal" text-anchor="end" fill="#000" color="#000" stroke="currentColor" stroke-width="0.22" stroke-linejoin="round">0</text>
<rect x="873" y="219.35" width="5.5" height="1.1" fill="#000"/>
<text transform="translate(863.19,223.12) scale(1.71,1)" font-size="10.1" font-weight="normal" text-anchor="end" fill="#000" color="#000" stroke="currentColor" stroke-width="0.22" stroke-linejoin="round">10</text>
<rect x="873" y="197.05" width="5.5" height="1.1" fill="#000"/>
<text transform="translate(863.19,200.82) scale(1.71,1)" font-size="10.1" font-weight="normal" text-anchor="end" fill="#000" color="#000" stroke="currentColor" stroke-width="0.22" stroke-linejoin="round">20</text>
<rect x="873" y="174.75" width="5.5" height="1.1" fill="#000"/>
<text transform="translate(863.19,178.52) scale(1.71,1)" font-size="10.1" font-weight="normal" text-anchor="end" fill="#000" color="#000" stroke="currentColor" stroke-width="0.22" stroke-linejoin="round">30</text>
<rect x="877.75" y="242.2" width="1.5" height="3" fill="#000"/>
<rect x="914.65" y="242.2" width="1.5" height="3" fill="#000"/>
<rect x="951.45" y="242.2" width="1.5" height="3" fill="#000"/>
<rect x="988.15" y="242.2" width="1.5" height="3" fill="#000"/>
<rect x="1024.55" y="242.2" width="1.5" height="3" fill="#000"/>
<rect x="886.7" y="240.1" width="10.9" height="2.1" fill="#0070c0" stroke="#000" stroke-width="1.15"/>
<rect x="897.6" y="214.5" width="10" height="27.7" fill="#ff0000" stroke="#000" stroke-width="1.15"/>
<rect x="901.9" y="209.5" width="1.4" height="9.7" fill="#111"/>
<rect x="899.6" y="208.95" width="6" height="1.1" fill="#111"/>
<rect x="899.6" y="218.65" width="6" height="1.1" fill="#111"/>
<rect x="923.4" y="240.1" width="10.4" height="2.1" fill="#0070c0" stroke="#000" stroke-width="1.15"/>
<rect x="933.8" y="231.7" width="10.5" height="10.5" fill="#ff0000" stroke="#000" stroke-width="1.15"/>
<rect x="938.35" y="228.4" width="1.4" height="6.7" fill="#111"/>
<rect x="935.9" y="227.85" width="6.3" height="1.1" fill="#111"/>
<rect x="935.9" y="234.55" width="6.3" height="1.1" fill="#111"/>
<rect x="959.7" y="240.1" width="10.5" height="2.1" fill="#0070c0" stroke="#000" stroke-width="1.15"/>
<rect x="970.2" y="178.3" width="10.6" height="63.9" fill="#ff0000" stroke="#000" stroke-width="1.15"/>
<rect x="974.8" y="174.5" width="1.4" height="7.3" fill="#111"/>
<rect x="972.32" y="173.95" width="6.36" height="1.1" fill="#111"/>
<rect x="972.32" y="181.25" width="6.36" height="1.1" fill="#111"/>
<rect x="996.4" y="240.1" width="10.6" height="2.1" fill="#0070c0" stroke="#000" stroke-width="1.15"/>
<rect x="1007" y="237.1" width="10.3" height="5.1" fill="#ff0000" stroke="#000" stroke-width="1.15"/>
<rect x="903.15" y="163.3" width="1.5" height="35.25" fill="#111"/>
<rect x="903.15" y="162.75" width="64" height="1.1" fill="#111"/>
<rect x="965.65" y="162.75" width="1.5" height="5.65" fill="#111"/>
<rect x="974.75" y="163.3" width="1.5" height="5.65" fill="#111"/>
<rect x="974.75" y="162.75" width="37" height="1.1" fill="#111"/>
<rect x="1010.25" y="162.75" width="1.5" height="41.45" fill="#111"/>
<text transform="translate(924.78,165.22) scale(1.35,1)" font-size="10.5" font-weight="bold" textLength="9.18" lengthAdjust="spacing" fill="#111">**</text>
<text transform="translate(987.01,165.25) scale(1.35,1)" font-size="10.5" font-weight="bold" textLength="14.17" lengthAdjust="spacing" fill="#111">***</text>
<text x="873.17" y="148.85" font-size="9.5" font-weight="bold" textLength="58.72" lengthAdjust="spacingAndGlyphs" fill="#000" color="#000" stroke="currentColor" stroke-width="0.1" stroke-linejoin="round">SESN2</text>
<text x="880.15" y="255.85" font-size="9.78" font-weight="normal" textLength="33.91" lengthAdjust="spacingAndGlyphs" fill="#000" color="#000" stroke="currentColor" stroke-width="0.22" stroke-linejoin="round">Cont</text>
<text x="919.95" y="255.85" font-size="9.78" font-weight="normal" textLength="27.96" lengthAdjust="spacingAndGlyphs" fill="#000" color="#000" stroke="currentColor" stroke-width="0.22" stroke-linejoin="round">p53</text>
<text x="953.1" y="255.85" font-size="9.78" font-weight="normal" textLength="33.77" lengthAdjust="spacingAndGlyphs" fill="#000" color="#000" stroke="currentColor" stroke-width="0.22" stroke-linejoin="round">Cont</text>
<text x="992.69" y="255.85" font-size="9.78" font-weight="normal" textLength="27.6" lengthAdjust="spacingAndGlyphs" fill="#000" color="#000" stroke="currentColor" stroke-width="0.22" stroke-linejoin="round">p53</text>
<rect x="879.2" y="258.75" width="54.3" height="1.1" fill="#222"/>
<rect x="952.7" y="258.75" width="54.3" height="1.1" fill="#222"/>
<text x="888.37" y="270.45" font-size="10.06" font-weight="bold" textLength="34.05" lengthAdjust="spacingAndGlyphs" fill="#000" color="#000" stroke="currentColor" stroke-width="0.1" stroke-linejoin="round">EB3</text>
<text x="956.16" y="270.45" font-size="10.06" font-weight="bold" textLength="44.7" lengthAdjust="spacingAndGlyphs" fill="#000" color="#000" stroke="currentColor" stroke-width="0.1" stroke-linejoin="round">CA46</text>
<rect x="76.4" y="324.3" width="1.6" height="80.5" fill="#000"/>
<rect x="71.7" y="401.25" width="149.4" height="1.1" fill="#000"/>
<rect x="71.7" y="401.25" width="5.5" height="1.1" fill="#000"/>
<text transform="translate(60.19,405.02) scale(1.71,1)" font-size="10.1" font-weight="normal" text-anchor="end" fill="#000" color="#000" stroke="currentColor" stroke-width="0.22" stroke-linejoin="round">0</text>
<rect x="71.7" y="382" width="5.5" height="1.1" fill="#000"/>
<text transform="translate(60.28,385.77) scale(1.71,1)" font-size="10.1" font-weight="normal" text-anchor="end" fill="#000" color="#000" stroke="currentColor" stroke-width="0.22" stroke-linejoin="round">5</text>
<rect x="71.7" y="362.75" width="5.5" height="1.1" fill="#000"/>
<text transform="translate(60.19,366.52) scale(1.71,1)" font-size="10.1" font-weight="normal" text-anchor="end" fill="#000" color="#000" stroke="currentColor" stroke-width="0.22" stroke-linejoin="round">10</text>
<rect x="71.7" y="343.5" width="5.5" height="1.1" fill="#000"/>
<text transform="translate(60.28,347.27) scale(1.71,1)" font-size="10.1" font-weight="normal" text-anchor="end" fill="#000" color="#000" stroke="currentColor" stroke-width="0.22" stroke-linejoin="round">15</text>
<rect x="71.7" y="324.25" width="5.5" height="1.1" fill="#000"/>
<text transform="translate(60.19,328.02) scale(1.71,1)" font-size="10.1" font-weight="normal" text-anchor="end" fill="#000" color="#000" stroke="currentColor" stroke-width="0.22" stroke-linejoin="round">20</text>
<rect x="76.45" y="401.8" width="1.5" height="3" fill="#000"/>
<rect x="112.15" y="401.8" width="1.5" height="3" fill="#000"/>
<rect x="147.45" y="401.8" width="1.5" height="3" fill="#000"/>
<rect x="182.95" y="401.8" width="1.5" height="3" fill="#000"/>
<rect x="219.55" y="401.8" width="1.5" height="3" fill="#000"/>
<rect x="84.3" y="398.1" width="10.3" height="3.7" fill="#0070c0" stroke="#000" stroke-width="1.15"/>
<rect x="88.75" y="395.4" width="1.4" height="5.2" fill="#111"/>
<rect x="86.36" y="394.85" width="6.18" height="1.1" fill="#111"/>
<rect x="86.36" y="400.05" width="6.18" height="1.1" fill="#111"/>
<rect x="94.6" y="393.5" width="10.3" height="8.3" fill="#ff0000" stroke="#000" stroke-width="1.15"/>
<rect x="99.05" y="392" width="1.4" height="3" fill="#111"/>
<rect x="96.66" y="391.45" width="6.18" height="1.1" fill="#111"/>
<rect x="96.66" y="394.45" width="6.18" height="1.1" fill="#111"/>
<rect x="120.2" y="398.1" width="10.2" height="3.7" fill="#0070c0" stroke="#000" stroke-width="1.15"/>
<rect x="124.6" y="397.2" width="1.4" height="1.8" fill="#111"/>
<rect x="122.24" y="396.65" width="6.12" height="1.1" fill="#111"/>
<rect x="122.24" y="398.45" width="6.12" height="1.1" fill="#111"/>
<rect x="130.4" y="350.8" width="10.1" height="51" fill="#ff0000" stroke="#000" stroke-width="1.15"/>
<rect x="134.75" y="350.2" width="1.4" height="1.2" fill="#111"/>
<rect x="132.42" y="349.65" width="6.06" height="1.1" fill="#111"/>
<rect x="132.42" y="350.85" width="6.06" height="1.1" fill="#111"/>
<rect x="156.5" y="398.1" width="10" height="3.7" fill="#0070c0" stroke="#000" stroke-width="1.15"/>
<rect x="166.5" y="335.5" width="10" height="66.3" fill="#ff0000" stroke="#000" stroke-width="1.15"/>
<rect x="170.8" y="333.7" width="1.4" height="3.6" fill="#111"/>
<rect x="168.5" y="333.15" width="6" height="1.1" fill="#111"/>
<rect x="168.5" y="336.75" width="6" height="1.1" fill="#111"/>
<rect x="191.9" y="397.8" width="10.5" height="4" fill="#0070c0" stroke="#000" stroke-width="1.15"/>
<rect x="196.45" y="395.5" width="1.4" height="4.5" fill="#111"/>
<rect x="194" y="394.95" width="6.3" height="1.1" fill="#111"/>
<rect x="194" y="399.45" width="6.3" height="1.1" fill="#111"/>
<rect x="202.4" y="390.2" width="10" height="11.6" fill="#ff0000" stroke="#000" stroke-width="1.15"/>
<rect x="206.7" y="389.6" width="1.4" height="1.2" fill="#111"/>
<rect x="204.4" y="389.05" width="6" height="1.1" fill="#111"/>
<rect x="204.4" y="390.25" width="6" height="1.1" fill="#111"/>
<rect x="96.5" y="316.75" width="1.6" height="51.75" fill="#111"/>
<rect x="96.5" y="316.75" width="108.9" height="1.1" fill="#111"/>
<rect x="203.8" y="316.75" width="1.6" height="10.35" fill="#111"/>
<rect x="96.5" y="326.85" width="73.5" height="1.1" fill="#111"/>
<rect x="168.4" y="326.85" width="1.6" height="7.55" fill="#111"/>
<rect x="96.5" y="337.05" width="37.6" height="1.1" fill="#111"/>
<rect x="132.5" y="337.05" width="1.6" height="11.85" fill="#111"/>
<text transform="translate(173.26,318.67) scale(1.35,1)" font-size="10.5" font-weight="bold" textLength="9.24" lengthAdjust="spacing" fill="#111">**</text>
<text transform="translate(135.61,329.47) scale(1.35,1)" font-size="10.5" font-weight="bold" textLength="14.78" lengthAdjust="spacing" fill="#111">***</text>
<text transform="translate(108.61,337.22) scale(1.35,1)" font-size="10.5" font-weight="bold" textLength="14.78" lengthAdjust="spacing" fill="#111">***</text>
<text x="72.64" y="305.85" font-size="9.92" font-weight="bold" textLength="73.1" lengthAdjust="spacingAndGlyphs" fill="#000" color="#000" stroke="currentColor" stroke-width="0.1" stroke-linejoin="round">CDKN1A</text>
<text transform="translate(98.2,411.7) scale(1.56,1) rotate(-45)" font-size="9.66" text-anchor="end" color="#000" stroke="currentColor" stroke-width="0.22" stroke-linejoin="round">Vec</text>
<text transform="translate(133.54,412.63) scale(1.67,1) rotate(-45)" font-size="8.66" text-anchor="end" color="#000" stroke="currentColor" stroke-width="0.22" stroke-linejoin="round">R248Q</text>
<text transform="translate(170.89,413.16) scale(1.79,1) rotate(-45)" font-size="8.56" text-anchor="end" color="#000" stroke="currentColor" stroke-width="0.22" stroke-linejoin="round">R273H</text>
<text transform="translate(206.13,412.69) scale(1.68,1) rotate(-45)" font-size="8.86" text-anchor="end" color="#000" stroke="currentColor" stroke-width="0.22" stroke-linejoin="round">WT</text>
<rect x="68.9" y="431.75" width="98" height="1.1" fill="#222"/>
<text x="64.96" y="442.75" font-size="10.34" font-weight="bold" textLength="94" lengthAdjust="spacingAndGlyphs" fill="#000" color="#000" stroke="currentColor" stroke-width="0.1" stroke-linejoin="round">HCT116 p53</text>
<text x="159" y="439.5" font-size="5" font-weight="normal" textLength="10.5" lengthAdjust="spacingAndGlyphs" fill="#000" color="#000" stroke="currentColor" stroke-width="0.2" stroke-linejoin="round">-/-</text>
<text x="180.28" y="433.05" font-size="9.92" font-weight="bold" textLength="57.35" lengthAdjust="spacingAndGlyphs" fill="#000" color="#000" stroke="currentColor" stroke-width="0.1" stroke-linejoin="round">HCT116</text>
<text x="190.28" y="443.45" font-size="8.94" font-weight="bold" textLength="25.72" lengthAdjust="spacingAndGlyphs" fill="#000" color="#000" stroke="currentColor" stroke-width="0.1" stroke-linejoin="round">p53</text>
<text x="217.8" y="440.9" font-size="5.6" font-weight="bold" textLength="13.9" lengthAdjust="spacingAndGlyphs" fill="#000" color="#000" stroke="currentColor" stroke-width="0.12" stroke-linejoin="round">+/+</text>
<text transform="translate(36.26,413.86) scale(1.52,1) rotate(-90)" font-size="10.1" font-weight="bold" textLength="102.27" lengthAdjust="spacingAndGlyphs" color="#000" stroke="currentColor" stroke-width="0.1" stroke-linejoin="round">mRNA relative to Actin</text>
<rect x="264.5" y="323.5" width="1.6" height="82.6" fill="#000"/>
<rect x="259.8" y="402.55" width="139.8" height="1.1" fill="#000"/>
<rect x="259.8" y="402.55" width="5.5" height="1.1" fill="#000"/>
<text transform="translate(249.13,406.32) scale(1.71,1)" font-size="10.1" font-weight="normal" text-anchor="end" fill="#000" color="#000" stroke="currentColor" stroke-width="0.22" stroke-linejoin="round">0</text>
<rect x="259.8" y="384.65" width="5.5" height="1.1" fill="#000"/>
<text transform="translate(249.34,388.42) scale(1.71,1)" font-size="10.1" font-weight="normal" text-anchor="end" fill="#000" color="#000" stroke="currentColor" stroke-width="0.22" stroke-linejoin="round">5</text>
<rect x="259.8" y="366.75" width="5.5" height="1.1" fill="#000"/>
<text transform="translate(249.13,370.52) scale(1.71,1)" font-size="10.1" font-weight="normal" text-anchor="end" fill="#000" color="#000" stroke="currentColor" stroke-width="0.22" stroke-linejoin="round">10</text>
<rect x="259.8" y="348.85" width="5.5" height="1.1" fill="#000"/>
<text transform="translate(249.34,352.62) scale(1.71,1)" font-size="10.1" font-weight="normal" text-anchor="end" fill="#000" color="#000" stroke="currentColor" stroke-width="0.22" stroke-linejoin="round">15</text>
<rect x="259.8" y="330.95" width="5.5" height="1.1" fill="#000"/>
<text transform="translate(249.13,334.72) scale(1.71,1)" font-size="10.1" font-weight="normal" text-anchor="end" fill="#000" color="#000" stroke="currentColor" stroke-width="0.22" stroke-linejoin="round">20</text>
<rect x="264.55" y="403.1" width="1.5" height="3" fill="#000"/>
<rect x="297.85" y="403.1" width="1.5" height="3" fill="#000"/>
<rect x="331.15" y="403.1" width="1.5" height="3" fill="#000"/>
<rect x="364.55" y="403.1" width="1.5" height="3" fill="#000"/>
<rect x="398.05" y="403.1" width="1.5" height="3" fill="#000"/>
<rect x="272.6" y="399.7" width="9.4" height="3.4" fill="#0070c0" stroke="#000" stroke-width="1.15"/>
<rect x="276.6" y="397.4" width="1.4" height="4.6" fill="#111"/>
<rect x="274.48" y="396.85" width="5.64" height="1.1" fill="#111"/>
<rect x="274.48" y="401.45" width="5.64" height="1.1" fill="#111"/>
<rect x="282" y="398.2" width="9.3" height="4.9" fill="#ff0000" stroke="#000" stroke-width="1.15"/>
<rect x="285.95" y="397.7" width="1.4" height="1" fill="#111"/>
<rect x="283.86" y="397.15" width="5.58" height="1.1" fill="#111"/>
<rect x="283.86" y="398.15" width="5.58" height="1.1" fill="#111"/>
<rect x="305.8" y="399.7" width="9.4" height="3.4" fill="#0070c0" stroke="#000" stroke-width="1.15"/>
<rect x="315.2" y="345.1" width="9.9" height="58" fill="#ff0000" stroke="#000" stroke-width="1.15"/>
<rect x="319.45" y="334.9" width="1.4" height="20.4" fill="#111"/>
<rect x="317.18" y="334.35" width="5.94" height="1.1" fill="#111"/>
<rect x="317.18" y="354.75" width="5.94" height="1.1" fill="#111"/>
<rect x="339.2" y="399.7" width="9.3" height="3.4" fill="#0070c0" stroke="#000" stroke-width="1.15"/>
<rect x="348.5" y="363.7" width="9.9" height="39.4" fill="#ff0000" stroke="#000" stroke-width="1.15"/>
<rect x="352.75" y="358.4" width="1.4" height="10.4" fill="#111"/>
<rect x="350.48" y="357.85" width="5.94" height="1.1" fill="#111"/>
<rect x="350.48" y="368.25" width="5.94" height="1.1" fill="#111"/>
<rect x="372.9" y="399.7" width="9.3" height="3.4" fill="#0070c0" stroke="#000" stroke-width="1.15"/>
<rect x="382.2" y="393.3" width="9.8" height="9.8" fill="#ff0000" stroke="#000" stroke-width="1.15"/>
<rect x="386.4" y="392.7" width="1.4" height="1.2" fill="#111"/>
<rect x="384.16" y="392.15" width="5.88" height="1.1" fill="#111"/>
<rect x="384.16" y="393.35" width="5.88" height="1.1" fill="#111"/>
<rect x="282.3" y="306.75" width="1.6" height="52.25" fill="#111"/>
<rect x="282.3" y="306.75" width="108.1" height="1.1" fill="#111"/>
<rect x="388.8" y="306.75" width="1.6" height="11.05" fill="#111"/>
<rect x="282.3" y="317.25" width="72.6" height="1.1" fill="#111"/>
<rect x="353.3" y="317.25" width="1.6" height="6.25" fill="#111"/>
<rect x="282.3" y="327.15" width="37" height="1.1" fill="#111"/>
<rect x="317.7" y="327.15" width="1.6" height="5.25" fill="#111"/>
<text x="357.32" y="310.54" font-size="10.5" font-weight="bold" textLength="4.44" lengthAdjust="spacingAndGlyphs" fill="#111">*</text>
<text transform="translate(320.8,320.07) scale(1.35,1)" font-size="10.5" font-weight="bold" textLength="9.93" lengthAdjust="spacing" fill="#111">**</text>
<text transform="translate(294.42,327.51) scale(1.35,1)" font-size="10.5" font-weight="bold" textLength="14.43" lengthAdjust="spacing" fill="#111">***</text>
<text x="250.68" y="304.15" font-size="10.61" font-weight="bold" textLength="84.44" lengthAdjust="spacingAndGlyphs" fill="#000" color="#000" stroke="currentColor" stroke-width="0.1" stroke-linejoin="round">GADD45A</text>
<text transform="translate(285.59,413.36) scale(1.64,1) rotate(-45)" font-size="9.03" text-anchor="end" color="#000" stroke="currentColor" stroke-width="0.22" stroke-linejoin="round">Vec</text>
<text transform="translate(316.65,414.2) scale(1.65,1) rotate(-45)" font-size="8.67" text-anchor="end" color="#000" stroke="currentColor" stroke-width="0.22" stroke-linejoin="round">R248Q</text>
<text transform="translate(352.77,414.54) scale(1.76,1) rotate(-45)" font-size="8.56" text-anchor="end" color="#000" stroke="currentColor" stroke-width="0.22" stroke-linejoin="round">R273H</text>
<text transform="translate(385,414.58) scale(1.81,1) rotate(-45)" font-size="8.24" text-anchor="end" color="#000" stroke="currentColor" stroke-width="0.22" stroke-linejoin="round">WT</text>
<rect x="263" y="433.35" width="97.7" height="1.1" fill="#222"/>
<text x="257.45" y="443.85" font-size="9.22" font-weight="bold" textLength="93.46" lengthAdjust="spacingAndGlyphs" fill="#000" color="#000" stroke="currentColor" stroke-width="0.1" stroke-linejoin="round">HCT116 p53</text>
<text x="351" y="440.3" font-size="5" font-weight="normal" textLength="10.1" lengthAdjust="spacingAndGlyphs" fill="#000" color="#000" stroke="currentColor" stroke-width="0.2" stroke-linejoin="round">-/-</text>
<text x="363.43" y="434.85" font-size="10.34" font-weight="bold" textLength="60.21" lengthAdjust="spacingAndGlyphs" fill="#000" color="#000" stroke="currentColor" stroke-width="0.1" stroke-linejoin="round">HCT116</text>
<text x="374.05" y="445.55" font-size="8.94" font-weight="bold" textLength="27.9" lengthAdjust="spacingAndGlyphs" fill="#000" color="#000" stroke="currentColor" stroke-width="0.1" stroke-linejoin="round">p53</text>
<text x="402.3" y="442.4" font-size="5.6" font-weight="bold" textLength="15.8" lengthAdjust="spacingAndGlyphs" fill="#000" color="#000" stroke="currentColor" stroke-width="0.12" stroke-linejoin="round">+/+</text>
<rect x="444" y="326.5" width="1.6" height="79.2" fill="#000"/>
<rect x="439.3" y="402.15" width="153.9" height="1.1" fill="#000"/>
<rect x="439.3" y="402.15" width="5.5" height="1.1" fill="#000"/>
<text transform="translate(429.12,405.92) scale(1.71,1)" font-size="10.1" font-weight="normal" text-anchor="end" fill="#000" color="#000" stroke="currentColor" stroke-width="0.22" stroke-linejoin="round">0</text>
<rect x="439.3" y="383.22" width="5.5" height="1.1" fill="#000"/>
<text transform="translate(429.2,386.99) scale(1.71,1)" font-size="10.1" font-weight="normal" text-anchor="end" fill="#000" color="#000" stroke="currentColor" stroke-width="0.22" stroke-linejoin="round">5</text>
<rect x="439.3" y="364.3" width="5.5" height="1.1" fill="#000"/>
<text transform="translate(429.12,368.07) scale(1.71,1)" font-size="10.1" font-weight="normal" text-anchor="end" fill="#000" color="#000" stroke="currentColor" stroke-width="0.22" stroke-linejoin="round">10</text>
<rect x="439.3" y="345.38" width="5.5" height="1.1" fill="#000"/>
<text transform="translate(429.2,349.14) scale(1.71,1)" font-size="10.1" font-weight="normal" text-anchor="end" fill="#000" color="#000" stroke="currentColor" stroke-width="0.22" stroke-linejoin="round">15</text>
<rect x="439.3" y="326.45" width="5.5" height="1.1" fill="#000"/>
<text transform="translate(429.12,330.22) scale(1.71,1)" font-size="10.1" font-weight="normal" text-anchor="end" fill="#000" color="#000" stroke="currentColor" stroke-width="0.22" stroke-linejoin="round">20</text>
<rect x="444.05" y="402.7" width="1.5" height="3" fill="#000"/>
<rect x="481.05" y="402.7" width="1.5" height="3" fill="#000"/>
<rect x="517.85" y="402.7" width="1.5" height="3" fill="#000"/>
<rect x="554.75" y="402.7" width="1.5" height="3" fill="#000"/>
<rect x="591.65" y="402.7" width="1.5" height="3" fill="#000"/>
<rect x="452.3" y="398.9" width="10.8" height="3.8" fill="#0070c0" stroke="#000" stroke-width="1.15"/>
<rect x="457" y="398.3" width="1.4" height="1.2" fill="#111"/>
<rect x="454.46" y="397.75" width="6.48" height="1.1" fill="#111"/>
<rect x="454.46" y="398.95" width="6.48" height="1.1" fill="#111"/>
<rect x="463.1" y="396.1" width="10.6" height="6.6" fill="#ff0000" stroke="#000" stroke-width="1.15"/>
<rect x="467.7" y="394.3" width="1.4" height="3.4" fill="#111"/>
<rect x="465.22" y="393.75" width="6.36" height="1.1" fill="#111"/>
<rect x="465.22" y="397.15" width="6.36" height="1.1" fill="#111"/>
<rect x="489.3" y="398.9" width="10.6" height="3.8" fill="#0070c0" stroke="#000" stroke-width="1.15"/>
<rect x="493.9" y="398.3" width="1.4" height="1.2" fill="#111"/>
<rect x="491.42" y="397.75" width="6.36" height="1.1" fill="#111"/>
<rect x="491.42" y="398.95" width="6.36" height="1.1" fill="#111"/>
<rect x="499.9" y="349" width="10.7" height="53.7" fill="#ff0000" stroke="#000" stroke-width="1.15"/>
<rect x="504.55" y="345.5" width="1.4" height="7.3" fill="#111"/>
<rect x="502.04" y="344.95" width="6.42" height="1.1" fill="#111"/>
<rect x="502.04" y="352.25" width="6.42" height="1.1" fill="#111"/>
<rect x="526.4" y="398.9" width="10.4" height="3.8" fill="#0070c0" stroke="#000" stroke-width="1.15"/>
<rect x="536.8" y="373.5" width="10.6" height="29.2" fill="#ff0000" stroke="#000" stroke-width="1.15"/>
<rect x="541.4" y="368.9" width="1.4" height="9.3" fill="#111"/>
<rect x="538.92" y="368.35" width="6.36" height="1.1" fill="#111"/>
<rect x="538.92" y="377.65" width="6.36" height="1.1" fill="#111"/>
<rect x="563.3" y="398.9" width="10.5" height="3.8" fill="#0070c0" stroke="#000" stroke-width="1.15"/>
<rect x="567.85" y="398.3" width="1.4" height="1.2" fill="#111"/>
<rect x="565.4" y="397.75" width="6.3" height="1.1" fill="#111"/>
<rect x="565.4" y="398.95" width="6.3" height="1.1" fill="#111"/>
<rect x="573.8" y="387.6" width="10.6" height="15.1" fill="#ff0000" stroke="#000" stroke-width="1.15"/>
<rect x="578.4" y="385.2" width="1.4" height="5" fill="#111"/>
<rect x="575.92" y="384.65" width="6.36" height="1.1" fill="#111"/>
<rect x="575.92" y="389.65" width="6.36" height="1.1" fill="#111"/>
<rect x="467.3" y="312.55" width="1.6" height="52.05" fill="#111"/>
<rect x="467.3" y="312.55" width="108.4" height="1.1" fill="#111"/>
<rect x="574.1" y="312.55" width="1.6" height="10.55" fill="#111"/>
<rect x="467.3" y="322.65" width="72.5" height="1.1" fill="#111"/>
<rect x="538.2" y="322.65" width="1.6" height="6.35" fill="#111"/>
<rect x="467.3" y="333.15" width="37.1" height="1.1" fill="#111"/>
<rect x="502.8" y="333.15" width="1.6" height="12.15" fill="#111"/>
<text transform="translate(541.79,314.92) scale(1.35,1)" font-size="10.5" font-weight="bold" textLength="9.77" lengthAdjust="spacing" fill="#111">**</text>
<text transform="translate(506.3,325.78) scale(1.35,1)" font-size="10.5" font-weight="bold" textLength="9.28" lengthAdjust="spacing" fill="#111">**</text>
<text transform="translate(479.4,332.87) scale(1.35,1)" font-size="10.5" font-weight="bold" textLength="9.66" lengthAdjust="spacing" fill="#111">**</text>
<text x="446.51" y="304.15" font-size="9.92" font-weight="bold" textLength="45.59" lengthAdjust="spacingAndGlyphs" fill="#000" color="#000" stroke="currentColor" stroke-width="0.1" stroke-linejoin="round">GLS2</text>
<text transform="translate(467.53,412.6) scale(1.68,1) rotate(-45)" font-size="9.61" text-anchor="end" color="#000" stroke="currentColor" stroke-width="0.22" stroke-linejoin="round">Vec</text>
<text transform="translate(503.06,413.57) scale(1.69,1) rotate(-45)" font-size="8.59" text-anchor="end" color="#000" stroke="currentColor" stroke-width="0.22" stroke-linejoin="round">R248Q</text>
<text transform="translate(541.01,414.04) scale(1.75,1) rotate(-45)" font-size="8.58" text-anchor="end" color="#000" stroke="currentColor" stroke-width="0.22" stroke-linejoin="round">R273H</text>
<text transform="translate(578.12,414) scale(1.7,1) rotate(-45)" font-size="8.43" text-anchor="end" color="#000" stroke="currentColor" stroke-width="0.22" stroke-linejoin="round">WT</text>
<rect x="445.9" y="432.55" width="98.1" height="1.1" fill="#222"/>
<text x="443.81" y="443.25" font-size="9.92" font-weight="bold" textLength="92.88" lengthAdjust="spacingAndGlyphs" fill="#000" color="#000" stroke="currentColor" stroke-width="0.1" stroke-linejoin="round">HCT116 p53</text>
<text x="536.7" y="439.5" font-size="5" font-weight="normal" textLength="10.9" lengthAdjust="spacingAndGlyphs" fill="#000" color="#000" stroke="currentColor" stroke-width="0.2" stroke-linejoin="round">-/-</text>
<text x="551.29" y="433.75" font-size="10.34" font-weight="bold" textLength="60.28" lengthAdjust="spacingAndGlyphs" fill="#000" color="#000" stroke="currentColor" stroke-width="0.1" stroke-linejoin="round">HCT116</text>
<text x="562.01" y="445.25" font-size="8.94" font-weight="bold" textLength="27.39" lengthAdjust="spacingAndGlyphs" fill="#000" color="#000" stroke="currentColor" stroke-width="0.1" stroke-linejoin="round">p53</text>
<text x="590.2" y="441.6" font-size="5.6" font-weight="bold" textLength="15.9" lengthAdjust="spacingAndGlyphs" fill="#000" color="#000" stroke="currentColor" stroke-width="0.12" stroke-linejoin="round">+/+</text>
<rect x="635" y="326.5" width="1.6" height="79.3" fill="#000"/>
<rect x="630.3" y="402.25" width="144.6" height="1.1" fill="#000"/>
<rect x="630.3" y="402.25" width="5.5" height="1.1" fill="#000"/>
<text transform="translate(620.13,406.02) scale(1.71,1)" font-size="10.1" font-weight="normal" text-anchor="end" fill="#000" color="#000" stroke="currentColor" stroke-width="0.22" stroke-linejoin="round">0</text>
<rect x="630.3" y="383.3" width="5.5" height="1.1" fill="#000"/>
<text transform="translate(620.34,387.07) scale(1.71,1)" font-size="10.1" font-weight="normal" text-anchor="end" fill="#000" color="#000" stroke="currentColor" stroke-width="0.22" stroke-linejoin="round">5</text>
<rect x="630.3" y="364.35" width="5.5" height="1.1" fill="#000"/>
<text transform="translate(620.13,368.12) scale(1.71,1)" font-size="10.1" font-weight="normal" text-anchor="end" fill="#000" color="#000" stroke="currentColor" stroke-width="0.22" stroke-linejoin="round">10</text>
<rect x="630.3" y="345.4" width="5.5" height="1.1" fill="#000"/>
<text transform="translate(620.34,349.17) scale(1.71,1)" font-size="10.1" font-weight="normal" text-anchor="end" fill="#000" color="#000" stroke="currentColor" stroke-width="0.22" stroke-linejoin="round">15</text>
<rect x="630.3" y="326.45" width="5.5" height="1.1" fill="#000"/>
<text transform="translate(620.13,330.22) scale(1.71,1)" font-size="10.1" font-weight="normal" text-anchor="end" fill="#000" color="#000" stroke="currentColor" stroke-width="0.22" stroke-linejoin="round">20</text>
<rect x="635.05" y="402.8" width="1.5" height="3" fill="#000"/>
<rect x="669.45" y="402.8" width="1.5" height="3" fill="#000"/>
<rect x="703.95" y="402.8" width="1.5" height="3" fill="#000"/>
<rect x="738.55" y="402.8" width="1.5" height="3" fill="#000"/>
<rect x="773.35" y="402.8" width="1.5" height="3" fill="#000"/>
<rect x="643.4" y="398.9" width="9.7" height="3.9" fill="#0070c0" stroke="#000" stroke-width="1.15"/>
<rect x="653.1" y="398" width="9.8" height="4.8" fill="#ff0000" stroke="#000" stroke-width="1.15"/>
<rect x="657.3" y="397.4" width="1.4" height="1.2" fill="#111"/>
<rect x="655.06" y="396.85" width="5.88" height="1.1" fill="#111"/>
<rect x="655.06" y="398.05" width="5.88" height="1.1" fill="#111"/>
<rect x="677.7" y="398.9" width="9.7" height="3.9" fill="#0070c0" stroke="#000" stroke-width="1.15"/>
<rect x="681.85" y="397.4" width="1.4" height="3.6" fill="#111"/>
<rect x="679.64" y="396.85" width="5.82" height="1.1" fill="#111"/>
<rect x="679.64" y="400.45" width="5.82" height="1.1" fill="#111"/>
<rect x="687.4" y="352.2" width="10.1" height="50.6" fill="#ff0000" stroke="#000" stroke-width="1.15"/>
<rect x="691.75" y="345.5" width="1.4" height="12.9" fill="#111"/>
<rect x="689.42" y="344.95" width="6.06" height="1.1" fill="#111"/>
<rect x="689.42" y="357.85" width="6.06" height="1.1" fill="#111"/>
<rect x="712.3" y="398.9" width="9.8" height="3.9" fill="#0070c0" stroke="#000" stroke-width="1.15"/>
<rect x="722.1" y="385.2" width="9.9" height="17.6" fill="#ff0000" stroke="#000" stroke-width="1.15"/>
<rect x="726.35" y="382.1" width="1.4" height="6.2" fill="#111"/>
<rect x="724.08" y="381.55" width="5.94" height="1.1" fill="#111"/>
<rect x="724.08" y="387.75" width="5.94" height="1.1" fill="#111"/>
<rect x="746.6" y="398.9" width="9.9" height="3.9" fill="#0070c0" stroke="#000" stroke-width="1.15"/>
<rect x="750.85" y="398.3" width="1.4" height="1.2" fill="#111"/>
<rect x="748.58" y="397.75" width="5.94" height="1.1" fill="#111"/>
<rect x="748.58" y="398.95" width="5.94" height="1.1" fill="#111"/>
<rect x="756.5" y="389.1" width="10.1" height="13.7" fill="#ff0000" stroke="#000" stroke-width="1.15"/>
<rect x="760.85" y="386.5" width="1.4" height="5.3" fill="#111"/>
<rect x="758.52" y="385.95" width="6.06" height="1.1" fill="#111"/>
<rect x="758.52" y="391.25" width="6.06" height="1.1" fill="#111"/>
<rect x="654.3" y="312.55" width="1.6" height="52.05" fill="#111"/>
<rect x="654.3" y="312.55" width="108.4" height="1.1" fill="#111"/>
<rect x="761.1" y="312.55" width="1.6" height="10.55" fill="#111"/>
<rect x="654.3" y="322.65" width="72.6" height="1.1" fill="#111"/>
<rect x="725.3" y="322.65" width="1.6" height="6.35" fill="#111"/>
<rect x="654.3" y="333.15" width="36.7" height="1.1" fill="#111"/>
<rect x="689.4" y="333.15" width="1.6" height="10.65" fill="#111"/>
<text transform="translate(728.64,314.93) scale(1.35,1)" font-size="10.5" font-weight="bold" textLength="14.33" lengthAdjust="spacing" fill="#111">***</text>
<text transform="translate(693.09,325.41) scale(1.35,1)" font-size="10.5" font-weight="bold" textLength="14.58" lengthAdjust="spacing" fill="#111">***</text>
<text x="666.28" y="333.11" font-size="10.5" font-weight="bold" textLength="6.07" lengthAdjust="spacingAndGlyphs" fill="#111">*</text>
<text x="631.87" y="304.65" font-size="10.2" font-weight="bold" textLength="53.75" lengthAdjust="spacingAndGlyphs" fill="#000" color="#000" stroke="currentColor" stroke-width="0.1" stroke-linejoin="round">TIGAR</text>
<text transform="translate(657.38,412.83) scale(1.66,1) rotate(-45)" font-size="9.62" text-anchor="end" color="#000" stroke="currentColor" stroke-width="0.22" stroke-linejoin="round">Vec</text>
<text transform="translate(690.89,413.2) scale(1.73,1) rotate(-45)" font-size="8.61" text-anchor="end" color="#000" stroke="currentColor" stroke-width="0.22" stroke-linejoin="round">R248Q</text>
<text transform="translate(726.65,413.69) scale(1.77,1) rotate(-45)" font-size="8.57" text-anchor="end" color="#000" stroke="currentColor" stroke-width="0.22" stroke-linejoin="round">R273H</text>
<text transform="translate(761.26,414.07) scale(1.68,1) rotate(-45)" font-size="8.63" text-anchor="end" color="#000" stroke="currentColor" stroke-width="0.22" stroke-linejoin="round">WT</text>
<rect x="629.8" y="433.15" width="98.6" height="1.1" fill="#222"/>
<text x="631.33" y="445.55" font-size="9.92" font-weight="bold" textLength="92.39" lengthAdjust="spacingAndGlyphs" fill="#000" color="#000" stroke="currentColor" stroke-width="0.1" stroke-linejoin="round">HCT116 p53</text>
<text x="724" y="441.8" font-size="5" font-weight="normal" textLength="10.5" lengthAdjust="spacingAndGlyphs" fill="#000" color="#000" stroke="currentColor" stroke-width="0.2" stroke-linejoin="round">-/-</text>
<text x="737.63" y="434.15" font-size="10.47" font-weight="bold" textLength="60.38" lengthAdjust="spacingAndGlyphs" fill="#000" color="#000" stroke="currentColor" stroke-width="0.1" stroke-linejoin="round">HCT116</text>
<text x="747.95" y="445.25" font-size="8.94" font-weight="bold" textLength="27.85" lengthAdjust="spacingAndGlyphs" fill="#000" color="#000" stroke="currentColor" stroke-width="0.1" stroke-linejoin="round">p53</text>
<text x="776.4" y="441.6" font-size="5.6" font-weight="bold" textLength="15.6" lengthAdjust="spacingAndGlyphs" fill="#000" color="#000" stroke="currentColor" stroke-width="0.12" stroke-linejoin="round">+/+</text>
<rect x="846.4" y="322.7" width="1.6" height="82.7" fill="#000"/>
<rect x="841.7" y="401.85" width="147.3" height="1.1" fill="#000"/>
<rect x="841.7" y="401.85" width="5.5" height="1.1" fill="#000"/>
<text transform="translate(831.33,405.62) scale(1.71,1)" font-size="10.1" font-weight="normal" text-anchor="end" fill="#000" color="#000" stroke="currentColor" stroke-width="0.22" stroke-linejoin="round">0</text>
<rect x="841.7" y="388.65" width="5.5" height="1.1" fill="#000"/>
<text transform="translate(831.54,392.42) scale(1.71,1)" font-size="10.1" font-weight="normal" text-anchor="end" fill="#000" color="#000" stroke="currentColor" stroke-width="0.22" stroke-linejoin="round">0.5</text>
<rect x="841.7" y="375.45" width="5.5" height="1.1" fill="#000"/>
<text transform="translate(831.73,379.22) scale(1.71,1)" font-size="10.1" font-weight="normal" text-anchor="end" fill="#000" color="#000" stroke="currentColor" stroke-width="0.22" stroke-linejoin="round">1</text>
<rect x="841.7" y="362.25" width="5.5" height="1.1" fill="#000"/>
<text transform="translate(831.54,366.02) scale(1.71,1)" font-size="10.1" font-weight="normal" text-anchor="end" fill="#000" color="#000" stroke="currentColor" stroke-width="0.22" stroke-linejoin="round">1.5</text>
<rect x="841.7" y="349.05" width="5.5" height="1.1" fill="#000"/>
<text transform="translate(831.73,352.82) scale(1.71,1)" font-size="10.1" font-weight="normal" text-anchor="end" fill="#000" color="#000" stroke="currentColor" stroke-width="0.22" stroke-linejoin="round">2</text>
<rect x="841.7" y="335.85" width="5.5" height="1.1" fill="#000"/>
<text transform="translate(831.54,339.62) scale(1.71,1)" font-size="10.1" font-weight="normal" text-anchor="end" fill="#000" color="#000" stroke="currentColor" stroke-width="0.22" stroke-linejoin="round">2.5</text>
<rect x="841.7" y="322.65" width="5.5" height="1.1" fill="#000"/>
<text transform="translate(831.66,326.42) scale(1.71,1)" font-size="10.1" font-weight="normal" text-anchor="end" fill="#000" color="#000" stroke="currentColor" stroke-width="0.22" stroke-linejoin="round">3</text>
<rect x="846.45" y="402.4" width="1.5" height="3" fill="#000"/>
<rect x="881.55" y="402.4" width="1.5" height="3" fill="#000"/>
<rect x="916.85" y="402.4" width="1.5" height="3" fill="#000"/>
<rect x="952.15" y="402.4" width="1.5" height="3" fill="#000"/>
<rect x="987.45" y="402.4" width="1.5" height="3" fill="#000"/>
<rect x="854.7" y="375.3" width="10.1" height="27.1" fill="#0070c0" stroke="#000" stroke-width="1.15"/>
<rect x="859.05" y="372.2" width="1.4" height="6.7" fill="#111"/>
<rect x="856.72" y="371.65" width="6.06" height="1.1" fill="#111"/>
<rect x="856.72" y="378.35" width="6.06" height="1.1" fill="#111"/>
<rect x="864.8" y="369" width="10.3" height="33.4" fill="#ff0000" stroke="#000" stroke-width="1.15"/>
<rect x="869.25" y="366.2" width="1.4" height="6" fill="#111"/>
<rect x="866.86" y="365.65" width="6.18" height="1.1" fill="#111"/>
<rect x="866.86" y="371.65" width="6.18" height="1.1" fill="#111"/>
<rect x="889.6" y="375.3" width="9.9" height="27.1" fill="#0070c0" stroke="#000" stroke-width="1.15"/>
<rect x="893.85" y="371.1" width="1.4" height="9.1" fill="#111"/>
<rect x="891.58" y="370.55" width="5.94" height="1.1" fill="#111"/>
<rect x="891.58" y="379.65" width="5.94" height="1.1" fill="#111"/>
<rect x="899.5" y="371.7" width="10.3" height="30.7" fill="#ff0000" stroke="#000" stroke-width="1.15"/>
<rect x="903.95" y="362.6" width="1.4" height="18.7" fill="#111"/>
<rect x="901.56" y="362.05" width="6.18" height="1.1" fill="#111"/>
<rect x="901.56" y="380.75" width="6.18" height="1.1" fill="#111"/>
<rect x="924.9" y="375.8" width="9.6" height="26.6" fill="#0070c0" stroke="#000" stroke-width="1.15"/>
<rect x="929" y="375.3" width="1.4" height="1" fill="#111"/>
<rect x="926.82" y="374.75" width="5.76" height="1.1" fill="#111"/>
<rect x="926.82" y="375.75" width="5.76" height="1.1" fill="#111"/>
<rect x="934.5" y="373.1" width="10.3" height="29.3" fill="#ff0000" stroke="#000" stroke-width="1.15"/>
<rect x="938.95" y="370.4" width="1.4" height="5.4" fill="#111"/>
<rect x="936.56" y="369.85" width="6.18" height="1.1" fill="#111"/>
<rect x="936.56" y="375.25" width="6.18" height="1.1" fill="#111"/>
<rect x="959.6" y="373.5" width="10.1" height="28.9" fill="#0070c0" stroke="#000" stroke-width="1.15"/>
<rect x="963.95" y="369.5" width="1.4" height="8.1" fill="#111"/>
<rect x="961.62" y="368.95" width="6.06" height="1.1" fill="#111"/>
<rect x="961.62" y="377.05" width="6.06" height="1.1" fill="#111"/>
<rect x="969.7" y="358.1" width="10.4" height="44.3" fill="#ff0000" stroke="#000" stroke-width="1.15"/>
<rect x="974.2" y="353" width="1.4" height="9.6" fill="#111"/>
<rect x="971.78" y="352.45" width="6.24" height="1.1" fill="#111"/>
<rect x="971.78" y="362.05" width="6.24" height="1.1" fill="#111"/>
<rect x="869" y="325.25" width="1.6" height="33.25" fill="#111"/>
<rect x="869" y="325.25" width="103.2" height="1.1" fill="#111"/>
<rect x="970.6" y="325.25" width="1.6" height="10.15" fill="#111"/>
<rect x="869" y="335.45" width="69.1" height="1.1" fill="#111"/>
<rect x="936.5" y="335.45" width="1.6" height="6.05" fill="#111"/>
<rect x="869" y="345.55" width="35.1" height="1.1" fill="#111"/>
<rect x="902.5" y="345.55" width="1.6" height="10.75" fill="#111"/>
<text x="939.72" y="321.5" font-size="8.86" font-weight="normal" textLength="15.12" lengthAdjust="spacingAndGlyphs" fill="#000" color="#000" stroke="currentColor" stroke-width="0.22" stroke-linejoin="round">ns</text>
<text x="905.65" y="332.5" font-size="8.48" font-weight="normal" textLength="15.24" lengthAdjust="spacingAndGlyphs" fill="#000" color="#000" stroke="currentColor" stroke-width="0.22" stroke-linejoin="round">ns</text>
<text x="880.09" y="344.3" font-size="8.48" font-weight="normal" textLength="14.9" lengthAdjust="spacingAndGlyphs" fill="#000" color="#000" stroke="currentColor" stroke-width="0.22" stroke-linejoin="round">ns</text>
<text x="836.16" y="304.15" font-size="9.5" font-weight="bold" textLength="37.04" lengthAdjust="spacingAndGlyphs" fill="#000" color="#000" stroke="currentColor" stroke-width="0.1" stroke-linejoin="round">BAX</text>
<text transform="translate(869.34,412.65) scale(1.64,1) rotate(-45)" font-size="9.51" text-anchor="end" color="#000" stroke="currentColor" stroke-width="0.22" stroke-linejoin="round">Vec</text>
<text transform="translate(903.05,413.5) scale(1.71,1) rotate(-45)" font-size="8.51" text-anchor="end" color="#000" stroke="currentColor" stroke-width="0.22" stroke-linejoin="round">R248Q</text>
<text transform="translate(938.87,414.3) scale(1.81,1) rotate(-45)" font-size="8.35" text-anchor="end" color="#000" stroke="currentColor" stroke-width="0.22" stroke-linejoin="round">R273H</text>
<text transform="translate(973.79,414.43) scale(1.8,1) rotate(-45)" font-size="8.01" text-anchor="end" color="#000" stroke="currentColor" stroke-width="0.22" stroke-linejoin="round">WT</text>
<rect x="838" y="434.35" width="96.9" height="1.1" fill="#222"/>
<text x="842.31" y="445.85" font-size="10.34" font-weight="bold" textLength="92.23" lengthAdjust="spacingAndGlyphs" fill="#000" color="#000" stroke="currentColor" stroke-width="0.1" stroke-linejoin="round">HCT116 p53</text>
<text x="934.7" y="442.1" font-size="5" font-weight="normal" textLength="11.4" lengthAdjust="spacingAndGlyphs" fill="#000" color="#000" stroke="currentColor" stroke-width="0.2" stroke-linejoin="round">-/-</text>
<text x="949.6" y="435.95" font-size="10.47" font-weight="bold" textLength="60.45" lengthAdjust="spacingAndGlyphs" fill="#000" color="#000" stroke="currentColor" stroke-width="0.1" stroke-linejoin="round">HCT116</text>
<text x="960.22" y="446.65" font-size="8.94" font-weight="bold" textLength="28.2" lengthAdjust="spacingAndGlyphs" fill="#000" color="#000" stroke="currentColor" stroke-width="0.1" stroke-linejoin="round">p53</text>
<text x="988.7" y="443.4" font-size="5.6" font-weight="bold" textLength="15.8" lengthAdjust="spacingAndGlyphs" fill="#000" color="#000" stroke="currentColor" stroke-width="0.12" stroke-linejoin="round">+/+</text>
<rect x="980.3" y="290.6" width="9.8" height="5.8" fill="#0070c0" stroke="#000" stroke-width="0.9"/>
<rect x="980.3" y="310.4" width="9.8" height="5.8" fill="#ff0000" stroke="#000" stroke-width="0.9"/>
<text x="994.58" y="296.65" font-size="10.34" font-weight="normal" textLength="55.7" lengthAdjust="spacingAndGlyphs" fill="#000" color="#000" stroke="currentColor" stroke-width="0.22" stroke-linejoin="round">Control</text>
<text x="994.14" y="316.45" font-size="10.2" font-weight="normal" textLength="54.43" lengthAdjust="spacingAndGlyphs" fill="#000" color="#000" stroke="currentColor" stroke-width="0.22" stroke-linejoin="round">No Gln</text>
<text x="60.85" y="27.95" font-size="9.78" font-weight="bold" textLength="34.33" lengthAdjust="spacingAndGlyphs" fill="#000" color="#000" stroke="currentColor" stroke-width="0.1" stroke-linejoin="round">EB3</text>
<rect x="52" y="28.5" width="55.6" height="1.2" fill="#222"/>
<text x="140.96" y="28.05" font-size="9.64" font-weight="bold" textLength="43.8" lengthAdjust="spacingAndGlyphs" fill="#000" color="#000" stroke="currentColor" stroke-width="0.1" stroke-linejoin="round">CA46</text>
<rect x="133" y="28.6" width="54.9" height="1.2" fill="#222"/>
<text x="19.14" y="39.25" font-size="10.06" font-weight="normal" textLength="32.23" lengthAdjust="spacingAndGlyphs" fill="#000" color="#000" stroke="currentColor" stroke-width="0.22" stroke-linejoin="round">Gln:</text>
<rect x="61.8" y="36" width="9.1" height="1.1" fill="#000"/>
<rect x="65.7" y="34.1" width="1.3" height="4.9" fill="#000"/>
<rect x="92.2" y="36.25" width="4.9" height="1.1" fill="#000"/>
<rect x="139.6" y="36" width="7.6" height="1.1" fill="#000"/>
<rect x="142.75" y="34.1" width="1.3" height="4.9" fill="#000"/>
<rect x="173.9" y="36.25" width="4.3" height="1.1" fill="#000"/>
<clipPath id="cp1"><rect x="45.1" y="40.9" width="71.5" height="16.9"/></clipPath>
<rect x="45.1" y="40.9" width="71.5" height="16.9" fill="url(#gA1)"/>
<g clip-path="url(#cp1)"><rect x="54.5" y="45.7" width="25" height="2.4" rx="3.6" ry="1.2" fill="#8c8c8c" filter="url(#b3)"/><rect x="54.5" y="49.9" width="25" height="2.2" rx="3.3" ry="1.1" fill="#acacac" filter="url(#b3)"/><rect x="86.5" y="45.5" width="26.5" height="3" rx="4.5" ry="1.5" fill="#262626" filter="url(#b3)"/><rect x="86.5" y="49.7" width="26.5" height="2.6" rx="3.9" ry="1.3" fill="#7a7a7a" filter="url(#b3)"/></g>
<rect x="45.1" y="40.9" width="71.5" height="16.9" fill="none" stroke="#111" stroke-width="1.05"/>
<clipPath id="cp2"><rect x="45.1" y="59.2" width="71.5" height="16.8"/></clipPath>
<rect x="45.1" y="59.2" width="71.5" height="16.8" fill="#f0f0f0"/>
<g clip-path="url(#cp2)"><rect x="51.4" y="63.6" width="28.1" height="2.7" rx="4.05" ry="1.35" fill="#161616" filter="url(#b3)"/><rect x="51.4" y="67.6" width="28.1" height="2.6" rx="3.9" ry="1.3" fill="#1c1c1c" filter="url(#b3)"/><rect x="88.8" y="63.9" width="25.1" height="2.6" rx="3.9" ry="1.3" fill="#707070" filter="url(#b3)"/><rect x="88.8" y="67.9" width="25.1" height="2.4" rx="3.6" ry="1.2" fill="#a0a0a0" filter="url(#b3)"/></g>
<rect x="45.1" y="59.2" width="71.5" height="16.8" fill="none" stroke="#111" stroke-width="1.05"/>
<clipPath id="cp3"><rect x="45.1" y="77.9" width="71.5" height="17.3"/></clipPath>
<rect x="45.1" y="77.9" width="71.5" height="17.3" fill="url(#gA3)"/>
<g clip-path="url(#cp3)"><ellipse cx="67.5" cy="87.7" rx="18" ry="5.1" fill="#111" filter="url(#b3)"/><ellipse cx="99.5" cy="87.6" rx="18" ry="4.6" fill="#111" filter="url(#b3)"/></g>
<rect x="45.1" y="77.9" width="71.5" height="17.3" fill="none" stroke="#111" stroke-width="1.05"/>
<clipPath id="cp4"><rect x="124.8" y="40" width="72" height="17.6"/></clipPath>
<rect x="124.8" y="40" width="72" height="17.6" fill="#efefef"/>
<g clip-path="url(#cp4)"><rect x="127.8" y="45.8" width="30.2" height="7.2" rx="5.44" ry="3.6" fill="#0a0a0a" filter="url(#b3)"/><rect x="159.9" y="45.2" width="32.5" height="8.4" rx="5.85" ry="4.2" fill="#0a0a0a" filter="url(#b3)"/></g>
<rect x="124.8" y="40" width="72" height="17.6" fill="none" stroke="#111" stroke-width="1.05"/>
<clipPath id="cp5"><rect x="124.8" y="59.5" width="72" height="16.1"/></clipPath>
<rect x="124.8" y="59.5" width="72" height="16.1" fill="#efefef"/>
<g clip-path="url(#cp5)"><rect x="128.6" y="65.6" width="28.6" height="6" rx="5.15" ry="3" fill="#0a0a0a" filter="url(#b3)"/><rect x="162.2" y="65" width="30" height="6.9" rx="5.4" ry="3.45" fill="#0a0a0a" filter="url(#b3)"/></g>
<rect x="124.8" y="59.5" width="72" height="16.1" fill="none" stroke="#111" stroke-width="1.05"/>
<clipPath id="cp6"><rect x="124.8" y="78" width="72" height="17.4"/></clipPath>
<rect x="124.8" y="78" width="72" height="17.4" fill="url(#gA3)"/>
<g clip-path="url(#cp6)"><ellipse cx="141.35" cy="87.85" rx="20.85" ry="4.85" fill="#111" filter="url(#b3)"/><ellipse cx="176.75" cy="88.05" rx="17.25" ry="3.85" fill="#111" filter="url(#b3)"/></g>
<rect x="124.8" y="78" width="72" height="17.4" fill="none" stroke="#111" stroke-width="1.05"/>
<text x="198.17" y="52.65" font-size="10.2" font-weight="normal" textLength="45.14" lengthAdjust="spacingAndGlyphs" fill="#000" color="#000" stroke="currentColor" stroke-width="0.22" stroke-linejoin="round">p-p53</text>
<text x="198.19" y="70.65" font-size="10.06" font-weight="normal" textLength="29.23" lengthAdjust="spacingAndGlyphs" fill="#000" color="#000" stroke="currentColor" stroke-width="0.22" stroke-linejoin="round">p53</text>
<text x="199.48" y="89.85" font-size="11.03" font-weight="normal" textLength="38.46" lengthAdjust="spacingAndGlyphs" fill="#000" color="#000" stroke="currentColor" stroke-width="0.22" stroke-linejoin="round">Actin</text>
<text x="82.9" y="117.45" font-size="9.64" font-weight="bold" textLength="34.86" lengthAdjust="spacingAndGlyphs" fill="#000" color="#000" stroke="currentColor" stroke-width="0.1" stroke-linejoin="round">EB3</text>
<rect x="72.4" y="120.4" width="51.4" height="1.2" fill="#222"/>
<text x="142.27" y="117.45" font-size="9.64" font-weight="bold" textLength="44.83" lengthAdjust="spacingAndGlyphs" fill="#000" color="#000" stroke="currentColor" stroke-width="0.1" stroke-linejoin="round">CA46</text>
<rect x="141.5" y="120.4" width="50.3" height="1.2" fill="#222"/>
<text x="7.62" y="131.85" font-size="10.61" font-weight="normal" textLength="54.68" lengthAdjust="spacingAndGlyphs" fill="#000" color="#000" stroke="currentColor" stroke-width="0.22" stroke-linejoin="round">shRNA:</text>
<text x="66.29" y="131.75" font-size="10.34" font-weight="normal" textLength="31.9" lengthAdjust="spacingAndGlyphs" fill="#000" color="#000" stroke="currentColor" stroke-width="0.22" stroke-linejoin="round">Cont</text>
<text x="106.69" y="131.75" font-size="10.34" font-weight="normal" textLength="26.55" lengthAdjust="spacingAndGlyphs" fill="#000" color="#000" stroke="currentColor" stroke-width="0.22" stroke-linejoin="round">p53</text>
<text x="142.3" y="131.75" font-size="10.34" font-weight="normal" textLength="32.31" lengthAdjust="spacingAndGlyphs" fill="#000" color="#000" stroke="currentColor" stroke-width="0.22" stroke-linejoin="round">Cont</text>
<text x="179.9" y="131.75" font-size="10.34" font-weight="normal" textLength="25.3" lengthAdjust="spacingAndGlyphs" fill="#000" color="#000" stroke="currentColor" stroke-width="0.22" stroke-linejoin="round">p53</text>
<clipPath id="cp7"><rect x="62.3" y="135.8" width="147.2" height="18.5"/></clipPath>
<rect x="62.3" y="135.8" width="147.2" height="18.5" fill="url(#gC1)"/>
<g clip-path="url(#cp7)"><ellipse cx="89" cy="146.75" rx="27" ry="4.25" fill="#4a4a4a" filter="url(#b2)"/><ellipse cx="122.5" cy="147.25" rx="12.5" ry="2.75" fill="#7a7a7a" filter="url(#b2)"/><ellipse cx="154.5" cy="146.3" rx="16.5" ry="4.1" fill="#060606" filter="url(#b3)"/><ellipse cx="190.5" cy="147.25" rx="20.5" ry="3.25" fill="#555" filter="url(#b1)"/></g>
<rect x="62.3" y="135.8" width="147.2" height="18.5" fill="none" stroke="#111" stroke-width="1.05"/>
<clipPath id="cp8"><rect x="62.3" y="156.8" width="147.2" height="18.4"/></clipPath>
<rect x="62.3" y="156.8" width="147.2" height="18.4" fill="url(#gC2)"/>
<g clip-path="url(#cp8)"><ellipse cx="83" cy="165.9" rx="21" ry="6.1" fill="#0a0a0a" filter="url(#b3)"/><ellipse cx="120" cy="165.9" rx="21.5" ry="5.7" fill="#0c0c0c" filter="url(#b3)"/><ellipse cx="156" cy="166" rx="21" ry="5.4" fill="#0e0e0e" filter="url(#b3)"/><ellipse cx="189.25" cy="166.4" rx="17.25" ry="4.8" fill="#0e0e0e" filter="url(#b3)"/></g>
<rect x="62.3" y="156.8" width="147.2" height="18.4" fill="none" stroke="#111" stroke-width="1.05"/>
<text x="213.37" y="148.05" font-size="10.47" font-weight="normal" textLength="29.08" lengthAdjust="spacingAndGlyphs" fill="#000" color="#000" stroke="currentColor" stroke-width="0.22" stroke-linejoin="round">p53</text>
<text x="212.31" y="169.05" font-size="11.45" font-weight="normal" textLength="38.8" lengthAdjust="spacingAndGlyphs" fill="#000" color="#000" stroke="currentColor" stroke-width="0.22" stroke-linejoin="round">Actin</text>
<text x="72.84" y="193.75" font-size="10.47" font-weight="bold" textLength="99.57" lengthAdjust="spacingAndGlyphs" fill="#000" color="#000" stroke="currentColor" stroke-width="0.1" stroke-linejoin="round">HCT116 p53</text>
<text x="172.4" y="190.1" font-size="5" font-weight="normal" textLength="11.6" lengthAdjust="spacingAndGlyphs" fill="#000" color="#000" stroke="currentColor" stroke-width="0.2" stroke-linejoin="round">-/-</text>
<rect x="47.6" y="196.1" width="153.5" height="1.2" fill="#222"/>
<text x="47.75" y="208.45" font-size="11.17" font-weight="normal" textLength="30.12" lengthAdjust="spacingAndGlyphs" fill="#000" color="#000" stroke="currentColor" stroke-width="0.22" stroke-linejoin="round">Vec</text>
<rect x="42.6" y="210.8" width="40.9" height="1.2" fill="#222"/>
<text x="88.52" y="209.25" font-size="11.17" font-weight="normal" textLength="55.91" lengthAdjust="spacingAndGlyphs" fill="#000" color="#000" stroke="currentColor" stroke-width="0.22" stroke-linejoin="round">R248Q</text>
<rect x="97.6" y="211.1" width="42.2" height="1.2" fill="#222"/>
<text x="151.22" y="209.25" font-size="11.17" font-weight="normal" textLength="56.3" lengthAdjust="spacingAndGlyphs" fill="#000" color="#000" stroke="currentColor" stroke-width="0.22" stroke-linejoin="round">R273H</text>
<rect x="152.2" y="211.1" width="41.7" height="1.2" fill="#222"/>
<text x="-0.64" y="221.05" font-size="10.75" font-weight="normal" textLength="32.77" lengthAdjust="spacingAndGlyphs" fill="#000" color="#000" stroke="currentColor" stroke-width="0.22" stroke-linejoin="round">Gln:</text>
<rect x="47.6" y="216.65" width="8.4" height="1.1" fill="#000"/>
<rect x="51.15" y="214.3" width="1.3" height="5.8" fill="#000"/>
<rect x="72.4" y="218.25" width="4.6" height="1.1" fill="#000"/>
<rect x="99.2" y="216.95" width="8.4" height="1.1" fill="#000"/>
<rect x="102.75" y="214.6" width="1.3" height="5.8" fill="#000"/>
<rect x="129.5" y="218.05" width="4.6" height="1.1" fill="#000"/>
<rect x="156" y="216.95" width="8.4" height="1.1" fill="#000"/>
<rect x="159.55" y="214.6" width="1.3" height="5.8" fill="#000"/>
<rect x="186.3" y="218.05" width="4.6" height="1.1" fill="#000"/>
<clipPath id="cp9"><rect x="30.3" y="222.4" width="173.2" height="18"/></clipPath>
<rect x="30.3" y="222.4" width="173.2" height="18" fill="url(#gE1)"/>
<g clip-path="url(#cp9)"><rect x="90.9" y="232.6" width="22.5" height="4.8" rx="4.05" ry="2.4" fill="#0a0a0a" filter="url(#b3)"/><rect x="116.6" y="230.9" width="26.7" height="6.4" rx="4.81" ry="3.2" fill="#050505" filter="url(#b3)"/><rect x="147.2" y="232.2" width="23.2" height="4.6" rx="4.18" ry="2.3" fill="#0a0a0a" filter="url(#b3)"/><rect x="173.8" y="230.2" width="28.8" height="6.6" rx="5.18" ry="3.3" fill="#050505" filter="url(#b3)"/></g>
<rect x="30.3" y="222.4" width="173.2" height="18" fill="none" stroke="#111" stroke-width="1.05"/>
<clipPath id="cp10"><rect x="30.3" y="242.9" width="173.2" height="18.5"/></clipPath>
<rect x="30.3" y="242.9" width="173.2" height="18.5" fill="url(#gE2)"/>
<g clip-path="url(#cp10)"><path d="M94.5 249.6 Q104 248.6 118 249.4 Q132 247.4 146 248.2 Q160 246.6 172 247.0 Q190 245.2 198 244.2 L204 243.2 L206 254.6 Q188 255.2 172 254.7 Q160 255.3 146 254.9 Q132 255.5 118 255.0 Q104 255.4 94.5 255.0 Q90.3 252.3 94.5 249.6 Z" fill="#050505" filter="url(#b3)"/><rect x="122" y="255.5" width="20" height="3.5" rx="3.6" ry="1.75" fill="#bdbdbd" filter="url(#b2)"/></g>
<rect x="30.3" y="242.9" width="173.2" height="18.5" fill="none" stroke="#111" stroke-width="1.05"/>
<clipPath id="cp11"><rect x="30.3" y="264.1" width="173.2" height="20.2"/></clipPath>
<rect x="30.3" y="264.1" width="173.2" height="20.2" fill="url(#gE3)"/>
<g clip-path="url(#cp11)"><rect x="38.3" y="270.9" width="25.8" height="5.4" rx="4.64" ry="2.7" fill="#141414" filter="url(#b3)"/><rect x="66.9" y="270.9" width="25.8" height="5.4" rx="4.64" ry="2.7" fill="#141414" filter="url(#b3)"/><rect x="94.3" y="270.9" width="25.1" height="5.4" rx="4.52" ry="2.7" fill="#141414" filter="url(#b3)"/><rect x="121.7" y="270.9" width="24.7" height="5.4" rx="4.45" ry="2.7" fill="#141414" filter="url(#b3)"/><rect x="148.5" y="271.1" width="25.8" height="5.4" rx="4.64" ry="2.7" fill="#141414" filter="url(#b3)"/><rect x="175.4" y="271.3" width="26.3" height="5.4" rx="4.73" ry="2.7" fill="#141414" filter="url(#b3)"/><rect x="45" y="277.5" width="150" height="3.5" rx="5.25" ry="1.75" fill="#c6c6c6" filter="url(#b2)"/></g>
<rect x="30.3" y="264.1" width="173.2" height="20.2" fill="none" stroke="#111" stroke-width="1.05"/>
<text x="208.68" y="234.55" font-size="10.34" font-weight="normal" textLength="45.09" lengthAdjust="spacingAndGlyphs" fill="#000" color="#000" stroke="currentColor" stroke-width="0.22" stroke-linejoin="round">p-p53</text>
<text x="208.73" y="255.95" font-size="10.61" font-weight="normal" textLength="28.69" lengthAdjust="spacingAndGlyphs" fill="#000" color="#000" stroke="currentColor" stroke-width="0.22" stroke-linejoin="round">p53</text>
<text x="208.64" y="277.85" font-size="11.73" font-weight="normal" textLength="39.84" lengthAdjust="spacingAndGlyphs" fill="#000" color="#000" stroke="currentColor" stroke-width="0.22" stroke-linejoin="round">Actin</text>
</g>
</svg>
</body></html>
